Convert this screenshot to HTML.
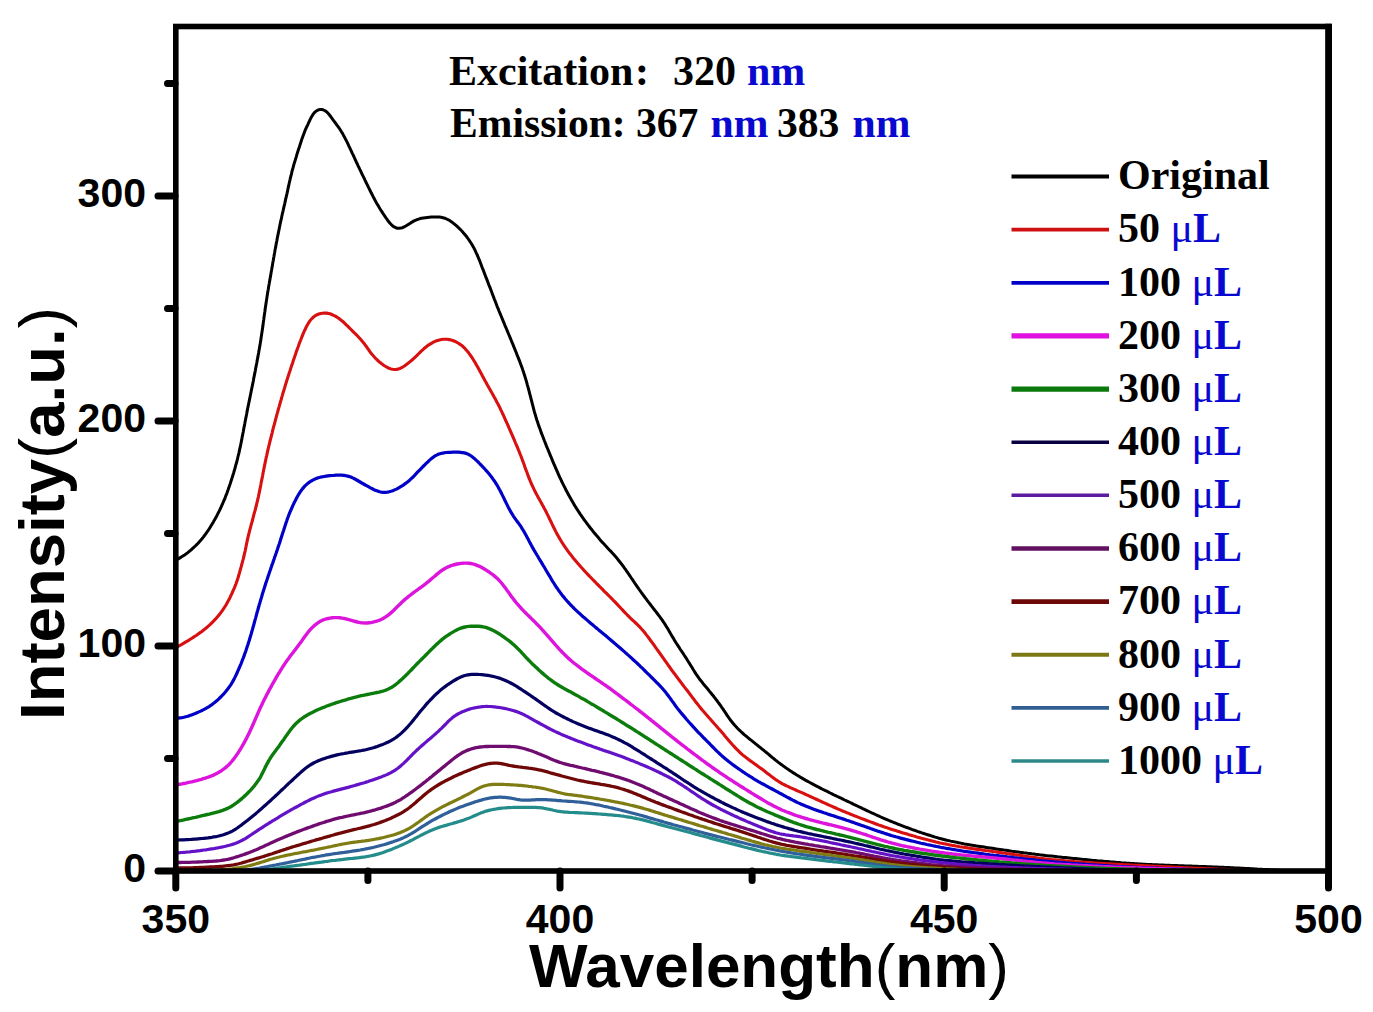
<!DOCTYPE html>
<html><head><meta charset="utf-8"><style>
html,body{margin:0;padding:0;background:#fff;}
body{width:1373px;height:1012px;overflow:hidden;position:relative;}
svg{position:absolute;left:0;top:0;}
</style></head><body>
<svg width="1373" height="1012" viewBox="0 0 1373 1012">
<g fill="none" stroke-linejoin="round" stroke-linecap="round">
<path d="M176 560 177.8 559.1 179.5 558.1 181.2 557.1 182.9 556 184.6 554.9 186.2 553.8 187.8 552.6 189.3 551.3 190.9 550.1 192.4 548.7 193.8 547.4 195.3 546 196.7 544.6 198.1 543.2 199.4 541.7 200.7 540.2 202 538.7 203.3 537.1 204.5 535.5 205.7 533.9 206.8 532.3 208 530.7 209.1 529 210.2 527.3 211.2 525.6 212.2 523.9 213.3 522.2 214.2 520.4 215.2 518.7 216.2 516.9 217.1 515.2 218 513.4 218.9 511.6 219.8 509.8 220.7 508 221.5 506.2 222.3 504.4 223.1 502.5 223.9 500.7 224.7 498.9 225.4 497 226.1 495.1 226.9 493.3 227.5 491.4 228.2 489.5 228.9 487.6 229.5 485.7 230.2 483.8 230.8 481.9 231.4 480 232 478.1 232.6 476.2 233.2 474.3 233.8 472.4 234.3 470.5 234.9 468.5 235.4 466.6 235.9 464.7 236.5 462.8 237 460.8 237.5 458.9 237.9 457 238.4 455 238.9 453.1 239.3 451.1 239.7 449.2 240.2 447.2 240.6 445.2 241 443.3 241.4 441.3 241.8 439.4 242.1 437.4 242.5 435.4 242.9 433.5 243.3 431.5 243.6 429.5 244 427.6 244.4 425.6 244.8 423.6 245.1 421.7 245.5 419.7 245.9 417.8 246.3 415.8 246.7 413.8 247 411.9 247.4 409.9 247.8 407.9 248.2 406 248.6 404 249 402.1 249.4 400.1 249.8 398.1 250.2 396.2 250.6 394.2 251 392.3 251.4 390.3 251.8 388.3 252.2 386.4 252.6 384.4 253 382.5 253.4 380.5 253.7 378.5 254.1 376.6 254.5 374.6 254.9 372.6 255.3 370.7 255.6 368.7 256 366.8 256.4 364.8 256.8 362.8 257.1 360.9 257.5 358.9 257.9 356.9 258.2 355 258.6 353 258.9 351 259.3 349.1 259.6 347.1 260 345.1 260.3 343.1 260.6 341.2 260.9 339.2 261.2 337.2 261.5 335.2 261.8 333.3 262.1 331.3 262.4 329.3 262.7 327.3 263 325.3 263.2 323.4 263.5 321.4 263.8 319.4 264 317.4 264.3 315.4 264.6 313.4 264.9 311.5 265.1 309.5 265.4 307.5 265.7 305.5 266 303.5 266.3 301.6 266.6 299.6 266.9 297.6 267.2 295.6 267.5 293.7 267.8 291.7 268.2 289.7 268.5 287.7 268.8 285.8 269.2 283.8 269.5 281.8 269.9 279.9 270.2 277.9 270.6 275.9 270.9 274 271.2 272 271.6 270 271.9 268 272.3 266.1 272.6 264.1 272.9 262.1 273.3 260.2 273.6 258.2 274 256.2 274.3 254.2 274.7 252.3 275 250.3 275.4 248.3 275.8 246.4 276.1 244.4 276.5 242.4 276.9 240.5 277.2 238.5 277.6 236.6 278 234.6 278.4 232.6 278.8 230.7 279.2 228.7 279.6 226.8 280 224.8 280.4 222.8 280.8 220.9 281.3 218.9 281.7 217 282.1 215 282.5 213.1 283 211.1 283.4 209.2 283.9 207.2 284.3 205.3 284.8 203.3 285.2 201.4 285.6 199.4 286.1 197.5 286.5 195.5 287 193.6 287.4 191.6 287.8 189.7 288.2 187.7 288.7 185.7 289.1 183.8 289.5 181.8 290 179.9 290.4 177.9 290.9 176 291.4 174.1 291.8 172.1 292.3 170.2 292.9 168.2 293.4 166.3 293.9 164.4 294.5 162.5 295.1 160.6 295.7 158.6 296.3 156.7 296.8 154.8 297.4 152.9 298 151 298.6 149.1 299.3 147.2 299.9 145.3 300.5 143.4 301.1 141.5 301.7 139.6 302.4 137.7 303.1 135.8 303.8 134 304.5 132.1 305.2 130.2 306 128.4 306.8 126.6 307.7 124.8 308.5 123 309.4 121.2 310.2 119.4 311.1 117.6 312.1 115.9 313.1 114.3 314.2 112.9 315.5 111.6 316.9 110.6 318.4 109.9 319.9 109.5 321.5 109.5 323.1 109.8 324.6 110.5 326.1 111.4 327.4 112.6 328.7 114 329.9 115.5 331.1 117.1 332.2 118.7 333.4 120.3 334.6 121.9 335.8 123.5 336.9 125.1 338.1 126.7 339.3 128.3 340.4 130 341.4 131.7 342.5 133.4 343.4 135.1 344.4 136.9 345.3 138.7 346.2 140.4 347.1 142.2 348 144 348.8 145.8 349.7 147.6 350.5 149.4 351.4 151.3 352.2 153.1 353.1 154.9 353.9 156.7 354.7 158.5 355.6 160.3 356.4 162.1 357.3 164 358.1 165.8 359 167.6 359.8 169.4 360.7 171.2 361.5 173 362.4 174.8 363.3 176.6 364.2 178.4 365 180.2 365.9 182 366.8 183.8 367.7 185.6 368.5 187.4 369.4 189.2 370.3 191 371.2 192.8 372.1 194.5 373 196.3 373.9 198.1 374.9 199.9 375.8 201.6 376.8 203.4 377.8 205.1 378.8 206.8 379.8 208.5 380.9 210.2 382 211.9 383.1 213.6 384.2 215.2 385.3 216.9 386.4 218.5 387.6 220.2 388.8 221.7 390 223.2 391.3 224.6 392.7 225.9 394.2 226.9 395.8 227.7 397.4 228.2 399.1 228.3 400.8 228.1 402.5 227.7 404.1 226.9 405.8 226 407.4 225 409.1 223.9 410.7 222.9 412.4 221.9 414.1 220.9 415.9 220.1 417.7 219.4 419.5 218.8 421.5 218.3 423.4 218 425.4 217.7 427.3 217.4 429.3 217.2 431.3 217.1 433.3 217 435.3 216.9 437.2 216.9 439.2 217 441.1 217.3 443 217.7 444.8 218.2 446.6 219 448.4 219.8 450 220.8 451.7 221.9 453.2 223.1 454.8 224.4 456.3 225.7 457.8 227 459.2 228.4 460.6 229.8 462 231.2 463.3 232.7 464.6 234.2 465.9 235.8 467.1 237.3 468.3 239 469.4 240.6 470.5 242.3 471.6 244 472.6 245.7 473.6 247.4 474.5 249.2 475.4 251 476.2 252.8 477.1 254.6 477.8 256.4 478.6 258.3 479.4 260.1 480.1 262 480.8 263.8 481.5 265.7 482.2 267.6 483 269.4 483.7 271.3 484.4 273.2 485.1 275 485.8 276.9 486.6 278.8 487.3 280.6 488 282.5 488.7 284.4 489.4 286.2 490.2 288.1 490.9 290 491.6 291.8 492.3 293.7 493 295.6 493.7 297.4 494.4 299.3 495.2 301.2 495.9 303 496.6 304.9 497.3 306.8 498.1 308.6 498.8 310.5 499.6 312.3 500.3 314.2 501.1 316 501.9 317.9 502.6 319.7 503.4 321.6 504.2 323.4 504.9 325.3 505.7 327.1 506.5 329 507.3 330.8 508 332.6 508.8 334.5 509.6 336.3 510.3 338.2 511.1 340 511.8 341.9 512.6 343.7 513.4 345.6 514.1 347.4 514.9 349.3 515.6 351.2 516.4 353 517.1 354.9 517.8 356.7 518.6 358.6 519.3 360.4 520 362.3 520.7 364.2 521.4 366.1 522.1 367.9 522.7 369.8 523.4 371.7 524 373.6 524.6 375.5 525.2 377.4 525.8 379.4 526.4 381.3 526.9 383.2 527.4 385.1 528 387.1 528.5 389 529 390.9 529.5 392.9 530 394.8 530.5 396.7 531 398.7 531.5 400.6 532 402.5 532.5 404.5 533 406.4 533.5 408.3 534 410.3 534.5 412.2 535.1 414.1 535.7 416 536.2 418 536.8 419.9 537.5 421.8 538.1 423.7 538.7 425.6 539.4 427.4 540.1 429.3 540.8 431.2 541.4 433.1 542.2 435 542.9 436.8 543.6 438.7 544.3 440.5 545.1 442.4 545.8 444.3 546.5 446.1 547.3 448 548.1 449.8 548.8 451.7 549.6 453.5 550.3 455.4 551.1 457.2 551.9 459.1 552.6 460.9 553.4 462.8 554.2 464.6 555 466.4 555.8 468.3 556.6 470.1 557.4 471.9 558.2 473.8 559 475.6 559.8 477.4 560.7 479.2 561.5 481 562.4 482.8 563.3 484.6 564.2 486.4 565.1 488.2 566 490 566.9 491.7 567.9 493.5 568.8 495.3 569.8 497 570.8 498.8 571.8 500.5 572.8 502.2 573.8 503.9 574.8 505.7 575.9 507.4 576.9 509.1 578 510.7 579.1 512.4 580.2 514.1 581.3 515.7 582.5 517.4 583.6 519 584.8 520.6 586 522.2 587.2 523.8 588.4 525.4 589.6 527 590.8 528.6 592.1 530.1 593.3 531.7 594.6 533.2 595.9 534.8 597.2 536.3 598.5 537.8 599.8 539.4 601.1 540.9 602.4 542.4 603.8 543.8 605.1 545.3 606.5 546.8 607.8 548.2 609.2 549.7 610.6 551.1 611.9 552.6 613.3 554.1 614.6 555.6 615.9 557.1 617.2 558.6 618.5 560.2 619.7 561.7 621 563.3 622.2 564.9 623.4 566.5 624.5 568.1 625.7 569.7 626.8 571.4 628 573 629.1 574.7 630.2 576.3 631.3 578 632.5 579.7 633.6 581.3 634.7 583 635.8 584.6 637 586.3 638.1 587.9 639.2 589.5 640.4 591.2 641.6 592.8 642.7 594.4 643.9 596 645.1 597.6 646.3 599.2 647.5 600.8 648.7 602.4 650 604 651.2 605.6 652.4 607.2 653.6 608.8 654.8 610.3 656.1 611.9 657.3 613.5 658.5 615.1 659.7 616.7 660.9 618.3 662.1 619.9 663.2 621.6 664.3 623.2 665.4 624.9 666.4 626.6 667.5 628.3 668.5 630 669.5 631.7 670.5 633.5 671.5 635.2 672.5 636.9 673.6 638.6 674.6 640.4 675.6 642.1 676.7 643.8 677.8 645.4 678.9 647.1 679.9 648.8 681.1 650.5 682.2 652.1 683.3 653.8 684.4 655.5 685.5 657.1 686.6 658.8 687.6 660.5 688.7 662.2 689.8 663.9 690.8 665.6 691.9 667.3 692.9 669 694 670.7 695 672.4 696.1 674.1 697.2 675.7 698.4 677.4 699.5 679 700.7 680.6 702 682.1 703.2 683.7 704.5 685.2 705.8 686.8 707.1 688.3 708.3 689.8 709.6 691.4 710.9 692.9 712.1 694.5 713.4 696 714.6 697.6 715.8 699.2 717.1 700.8 718.2 702.4 719.4 704 720.6 705.6 721.7 707.3 722.9 708.9 724 710.6 725.1 712.2 726.2 713.9 727.3 715.6 728.4 717.2 729.6 718.9 730.8 720.5 732 722 733.2 723.6 734.5 725.1 735.9 726.6 737.2 728 738.6 729.4 740.1 730.8 741.5 732.2 743 733.5 744.5 734.8 746.1 736.1 747.6 737.4 749.1 738.7 750.7 739.9 752.3 741.2 753.8 742.4 755.4 743.7 757 744.9 758.5 746.2 760.1 747.4 761.6 748.7 763.2 749.9 764.7 751.2 766.3 752.5 767.8 753.7 769.4 755 770.9 756.3 772.4 757.6 774 758.8 775.5 760.1 777.1 761.3 778.7 762.6 780.3 763.8 781.9 764.9 783.5 766.1 785.1 767.3 786.8 768.4 788.4 769.6 790.1 770.7 791.8 771.8 793.4 772.9 795.1 773.9 796.8 775 798.5 776 800.2 777.1 802 778.1 803.7 779.1 805.4 780.1 807.2 781.1 808.9 782 810.7 783 812.4 783.9 814.2 784.9 816 785.8 817.7 786.7 819.5 787.6 821.3 788.6 823.1 789.5 824.9 790.4 826.7 791.2 828.5 792.1 830.2 793 832 793.9 833.8 794.8 835.6 795.6 837.4 796.5 839.3 797.4 841.1 798.2 842.9 799.1 844.7 800 846.5 800.8 848.3 801.7 850.1 802.5 851.9 803.4 853.7 804.3 855.5 805.1 857.3 806 859.1 806.9 860.9 807.7 862.7 808.6 864.5 809.4 866.3 810.3 868.1 811.2 869.9 812 871.7 812.9 873.6 813.7 875.4 814.5 877.2 815.4 879 816.2 880.8 817 882.7 817.8 884.5 818.6 886.3 819.4 888.2 820.2 890 821 891.9 821.7 893.7 822.5 895.6 823.2 897.4 824 899.3 824.7 901.2 825.4 903 826.1 904.9 826.8 906.8 827.5 908.7 828.2 910.6 828.9 912.4 829.6 914.3 830.2 916.2 830.9 918.1 831.6 920 832.2 921.9 832.9 923.8 833.5 925.7 834.1 927.6 834.7 929.5 835.3 931.4 835.9 933.3 836.5 935.2 837.1 937.1 837.6 939.1 838.2 941 838.7 942.9 839.2 944.9 839.7 946.8 840.2 948.7 840.6 950.7 841.1 952.6 841.5 954.6 841.9 956.6 842.3 958.5 842.7 960.5 843.1 962.4 843.5 964.4 843.9 966.4 844.2 968.4 844.6 970.3 844.9 972.3 845.2 974.3 845.6 976.2 845.9 978.2 846.2 980.2 846.5 982.2 846.8 984.1 847.1 986.1 847.4 988.1 847.7 990.1 848 992.1 848.3 994 848.6 996 848.9 998 849.2 1000 849.5 1001.9 849.8 1003.9 850.1 1005.9 850.3 1007.9 850.6 1009.9 850.9 1011.9 851.2 1013.8 851.4 1015.8 851.7 1017.8 852 1019.8 852.3 1021.8 852.5 1023.7 852.8 1025.7 853 1027.7 853.3 1029.7 853.5 1031.7 853.8 1033.7 854 1035.6 854.3 1037.6 854.5 1039.6 854.8 1041.6 855 1043.6 855.2 1045.6 855.5 1047.6 855.7 1049.6 855.9 1051.5 856.1 1053.5 856.3 1055.5 856.5 1057.5 856.8 1059.5 857 1061.5 857.2 1063.5 857.4 1065.5 857.6 1067.5 857.8 1069.4 858 1071.4 858.2 1073.4 858.4 1075.4 858.6 1077.4 858.8 1079.4 859 1081.4 859.2 1083.4 859.4 1085.4 859.6 1087.4 859.8 1089.3 860 1091.3 860.2 1093.3 860.4 1095.3 860.6 1097.3 860.8 1099.3 860.9 1101.3 861.1 1103.3 861.3 1105.3 861.5 1107.3 861.6 1109.3 861.8 1111.3 862 1113.2 862.1 1115.2 862.3 1117.2 862.5 1119.2 862.6 1121.2 862.8 1123.2 862.9 1125.2 863 1127.2 863.2 1129.2 863.3 1131.2 863.5 1133.2 863.6 1135.2 863.7 1137.2 863.8 1139.2 863.9 1141.2 864 1143.2 864.2 1145.2 864.3 1147.2 864.4 1149.2 864.5 1151.2 864.6 1153.2 864.7 1155.2 864.7 1157.2 864.8 1159.2 864.9 1161.2 865 1163.2 865.1 1165.2 865.2 1167.2 865.3 1169.2 865.3 1171.2 865.4 1173.1 865.5 1175.1 865.6 1177.1 865.6 1179.1 865.7 1181.1 865.8 1183.1 865.8 1185.1 865.9 1187.1 866 1189.1 866.1 1191.1 866.1 1193.1 866.2 1195.1 866.3 1197.1 866.3 1199.1 866.4 1201.1 866.5 1203.1 866.5 1205.1 866.6 1207.1 866.7 1209.1 866.8 1211.1 866.8 1213.1 866.9 1215.1 867 1217.1 867.1 1219.1 867.2 1221.1 867.3 1223.1 867.3 1225.1 867.4 1227.1 867.5 1229.1 867.6 1231.1 867.7 1233.1 867.8 1235.1 867.9 1237.1 868 1239.1 868.1 1241.1 868.2 1243.1 868.3 1245.1 868.4 1247.1 868.5 1249.1 868.6 1251.1 868.7 1253.1 868.8 1255.1 868.9 1257.1 869.1 1259.1 869.2 1261.1 869.3 1263.1 869.4 1265.1 869.5 1267.1 869.6 1269.1 869.7 1271 869.9 1273 870 1275 870.1 1277 870.2 1279 870.3 1281 870.5 1283 870.6 1285 870.7 1287 870.8 1289 870.9" stroke="#000000" stroke-width="3.0"/>
<path d="M176 647.5 177.8 646.5 179.5 645.6 181.3 644.6 183 643.6 184.7 642.6 186.4 641.6 188.2 640.6 189.9 639.5 191.5 638.5 193.2 637.4 194.9 636.3 196.6 635.2 198.2 634 199.8 632.9 201.5 631.7 203 630.5 204.6 629.3 206.1 628 207.7 626.7 209.2 625.4 210.6 624 212.1 622.6 213.5 621.2 214.8 619.7 216.2 618.3 217.5 616.8 218.8 615.2 220 613.7 221.2 612.1 222.4 610.5 223.5 608.8 224.6 607.2 225.7 605.5 226.7 603.7 227.6 602 228.6 600.2 229.5 598.5 230.4 596.7 231.2 594.9 232.1 593 232.9 591.2 233.7 589.4 234.5 587.6 235.2 585.7 236 583.8 236.6 582 237.3 580.1 237.9 578.2 238.5 576.3 239 574.4 239.6 572.4 240.1 570.5 240.6 568.6 241.2 566.7 241.7 564.7 242.2 562.8 242.7 560.9 243.3 558.9 243.7 557 244.2 555 244.6 553.1 245.1 551.1 245.5 549.2 245.9 547.2 246.3 545.3 246.7 543.3 247.1 541.4 247.5 539.4 248 537.5 248.4 535.5 248.9 533.6 249.4 531.6 249.9 529.7 250.4 527.8 250.9 525.8 251.4 523.9 252 522 252.5 520 253 518.1 253.5 516.2 254 514.2 254.5 512.3 255.1 510.4 255.6 508.4 256.1 506.5 256.5 504.6 257 502.6 257.5 500.7 257.9 498.7 258.4 496.8 258.8 494.8 259.2 492.9 259.6 490.9 260 488.9 260.4 487 260.8 485 261.1 483 261.5 481.1 261.9 479.1 262.3 477.2 262.7 475.2 263 473.2 263.4 471.3 263.8 469.3 264.2 467.3 264.6 465.4 265 463.4 265.4 461.5 265.8 459.5 266.2 457.5 266.7 455.6 267.1 453.6 267.5 451.7 268 449.7 268.4 447.8 268.9 445.9 269.4 443.9 269.8 442 270.3 440 270.8 438.1 271.3 436.1 271.8 434.2 272.3 432.3 272.7 430.3 273.2 428.4 273.7 426.4 274.3 424.5 274.8 422.6 275.3 420.6 275.8 418.7 276.3 416.8 276.8 414.9 277.4 412.9 277.9 411 278.4 409.1 279 407.1 279.5 405.2 280.1 403.3 280.6 401.4 281.2 399.5 281.7 397.5 282.3 395.6 282.8 393.7 283.4 391.8 284 389.9 284.6 387.9 285.1 386 285.7 384.1 286.3 382.2 286.9 380.3 287.5 378.4 288.1 376.5 288.7 374.6 289.3 372.7 290 370.8 290.6 368.9 291.2 367 291.8 365.1 292.5 363.2 293.1 361.3 293.7 359.4 294.4 357.5 295 355.6 295.7 353.7 296.3 351.8 297 349.9 297.7 348 298.4 346.2 299 344.3 299.7 342.4 300.5 340.5 301.2 338.7 301.9 336.8 302.7 335 303.4 333.1 304.2 331.3 305.1 329.5 305.9 327.7 306.8 325.9 307.8 324.2 308.8 322.5 309.9 320.9 311.1 319.4 312.5 318 313.9 316.7 315.4 315.6 317.1 314.7 318.8 314 320.7 313.5 322.5 313.2 324.4 313 326.3 313.1 328.2 313.4 330 313.8 331.8 314.5 333.6 315.3 335.3 316.2 337 317.2 338.7 318.3 340.2 319.5 341.8 320.7 343.3 322 344.8 323.4 346.2 324.8 347.7 326.2 349.1 327.6 350.5 329 351.9 330.4 353.3 331.8 354.7 333.2 356.2 334.6 357.6 336 358.9 337.5 360.3 338.9 361.6 340.4 362.9 342 364.1 343.5 365.3 345.1 366.5 346.7 367.6 348.4 368.8 350 369.9 351.6 371.1 353.2 372.4 354.8 373.7 356.3 375 357.7 376.4 359.2 377.8 360.5 379.3 361.9 380.9 363.1 382.4 364.3 384 365.5 385.7 366.5 387.4 367.5 389.1 368.3 390.9 368.9 392.7 369.3 394.5 369.5 396.3 369.4 398.1 369.1 399.9 368.5 401.6 367.7 403.2 366.7 404.8 365.7 406.4 364.5 408 363.3 409.5 362.1 411.1 360.8 412.6 359.5 414.1 358.2 415.5 356.8 417 355.4 418.4 354 419.8 352.6 421.2 351.2 422.7 349.9 424.1 348.5 425.7 347.2 427.2 346 428.8 344.8 430.5 343.8 432.2 342.8 433.9 341.9 435.7 341.1 437.6 340.5 439.5 339.9 441.4 339.5 443.3 339.3 445.2 339.2 447.1 339.3 449.1 339.6 451 340 452.8 340.5 454.6 341.2 456.4 342.1 458.1 343 459.8 344.1 461.4 345.2 462.9 346.5 464.3 347.8 465.6 349.3 466.9 350.8 468.2 352.3 469.4 353.9 470.5 355.5 471.7 357.2 472.8 358.8 473.8 360.5 474.9 362.2 475.9 363.9 476.9 365.7 477.9 367.4 478.9 369.2 479.8 370.9 480.8 372.7 481.7 374.4 482.6 376.2 483.6 378 484.5 379.7 485.5 381.5 486.5 383.2 487.4 385 488.4 386.7 489.4 388.5 490.4 390.2 491.4 392 492.4 393.7 493.3 395.4 494.3 397.2 495.3 398.9 496.2 400.7 497.1 402.5 498.1 404.2 499 406 499.9 407.8 500.7 409.6 501.6 411.4 502.4 413.2 503.3 415 504.1 416.9 504.9 418.7 505.7 420.5 506.6 422.3 507.4 424.2 508.2 426 509 427.8 509.8 429.7 510.6 431.5 511.4 433.3 512.2 435.2 513 437 513.8 438.8 514.6 440.7 515.3 442.5 516.1 444.4 516.9 446.2 517.7 448 518.4 449.9 519.2 451.7 519.9 453.6 520.7 455.5 521.4 457.3 522.1 459.2 522.8 461.1 523.5 463 524.2 464.8 524.8 466.7 525.5 468.6 526.2 470.5 526.9 472.3 527.6 474.2 528.3 476.1 529 478 529.8 479.8 530.5 481.7 531.3 483.5 532.1 485.3 533 487.1 533.8 488.9 534.7 490.7 535.6 492.5 536.5 494.3 537.5 496 538.4 497.8 539.4 499.5 540.4 501.3 541.4 503 542.3 504.8 543.3 506.5 544.2 508.3 545.2 510.1 546.1 511.8 547 513.6 547.9 515.4 548.8 517.2 549.6 519 550.5 520.8 551.4 522.6 552.2 524.4 553.1 526.2 554 528 554.9 529.8 555.8 531.6 556.7 533.4 557.7 535.1 558.7 536.9 559.7 538.6 560.7 540.3 561.7 542 562.8 543.7 563.9 545.3 565 547 566.2 548.6 567.4 550.3 568.5 551.9 569.7 553.5 571 555.1 572.2 556.6 573.4 558.2 574.7 559.7 576 561.3 577.3 562.8 578.6 564.3 579.9 565.8 581.2 567.3 582.6 568.8 583.9 570.3 585.3 571.7 586.7 573.2 588 574.6 589.4 576.1 590.8 577.5 592.2 579 593.6 580.4 595 581.8 596.4 583.3 597.8 584.7 599.2 586.1 600.6 587.5 602 588.9 603.4 590.4 604.8 591.8 606.3 593.2 607.7 594.6 609.1 596 610.5 597.4 611.9 598.8 613.3 600.3 614.7 601.7 616.1 603.1 617.5 604.6 618.8 606 620.2 607.5 621.6 609 622.9 610.4 624.3 611.9 625.7 613.3 627.1 614.8 628.5 616.2 629.9 617.6 631.3 619 632.8 620.3 634.3 621.7 635.7 623 637.2 624.4 638.6 625.8 640 627.2 641.3 628.7 642.7 630.2 644 631.7 645.2 633.3 646.4 634.9 647.6 636.4 648.8 638 650 639.7 651.2 641.3 652.4 642.9 653.6 644.5 654.7 646.1 655.9 647.8 657 649.4 658.2 651 659.4 652.6 660.5 654.3 661.7 655.9 662.8 657.5 664 659.2 665.1 660.8 666.3 662.4 667.5 664.1 668.6 665.7 669.8 667.3 670.9 669 672.1 670.6 673.3 672.2 674.5 673.8 675.7 675.4 676.9 677 678.1 678.6 679.3 680.2 680.5 681.8 681.7 683.4 682.9 685 684.1 686.6 685.3 688.1 686.6 689.7 687.8 691.3 689 692.9 690.2 694.5 691.4 696.1 692.6 697.7 693.8 699.3 695 700.9 696.2 702.5 697.5 704.1 698.7 705.6 700 707.2 701.2 708.7 702.5 710.3 703.8 711.8 705.1 713.3 706.4 714.8 707.7 716.3 709 717.8 710.4 719.3 711.7 720.8 713 722.3 714.3 723.8 715.7 725.3 717 726.8 718.3 728.3 719.7 729.8 721 731.3 722.3 732.8 723.6 734.3 724.9 735.9 726.2 737.4 727.5 738.9 728.8 740.4 730.1 742 731.4 743.5 732.7 745 734 746.4 735.4 747.9 736.8 749.3 738.2 750.7 739.6 752.1 741.1 753.5 742.6 754.8 744.1 756.1 745.7 757.3 747.3 758.5 748.9 759.7 750.5 760.9 752.1 762 753.8 763.2 755.4 764.4 757 765.5 758.6 766.7 760.3 767.9 761.9 769.1 763.5 770.3 765.1 771.5 766.6 772.7 768.2 773.9 769.8 775.1 771.4 776.4 773 777.6 774.6 778.7 776.2 779.9 777.9 781 779.6 782.1 781.3 783.1 783 784.1 784.8 785 786.6 785.9 788.4 786.7 790.2 787.6 792 788.4 793.8 789.2 795.7 790 797.5 790.8 799.3 791.6 801.2 792.4 803 793.2 804.8 794 806.6 794.8 808.5 795.7 810.3 796.5 812.1 797.3 813.9 798.2 815.7 799 817.6 799.8 819.4 800.7 821.2 801.5 823 802.3 824.8 803.1 826.7 804 828.5 804.8 830.3 805.6 832.1 806.4 834 807.2 835.8 808 837.6 808.8 839.5 809.6 841.3 810.4 843.2 811.2 845 811.9 846.9 812.7 848.7 813.4 850.6 814.2 852.4 814.9 854.3 815.7 856.1 816.4 858 817.1 859.9 817.9 861.7 818.6 863.6 819.3 865.5 820 867.3 820.7 869.2 821.4 871.1 822.1 873 822.8 874.8 823.5 876.7 824.2 878.6 824.9 880.5 825.5 882.4 826.2 884.3 826.9 886.2 827.5 888 828.1 889.9 828.8 891.8 829.4 893.7 830 895.7 830.6 897.6 831.2 899.5 831.8 901.4 832.4 903.3 833 905.2 833.5 907.1 834.1 909 834.7 911 835.2 912.9 835.8 914.8 836.3 916.7 836.9 918.7 837.4 920.6 838 922.5 838.5 924.4 839 926.4 839.5 928.3 840 930.3 840.5 932.2 841 934.1 841.5 936.1 842 938 842.4 940 842.9 941.9 843.3 943.9 843.7 945.8 844.1 947.8 844.5 949.8 844.9 951.7 845.3 953.7 845.6 955.7 846 957.6 846.3 959.6 846.7 961.6 847 963.6 847.3 965.5 847.6 967.5 847.9 969.5 848.2 971.5 848.5 973.4 848.8 975.4 849.1 977.4 849.4 979.4 849.6 981.4 849.9 983.3 850.2 985.3 850.5 987.3 850.7 989.3 851 991.3 851.3 993.2 851.6 995.2 851.8 997.2 852.1 999.2 852.4 1001.2 852.7 1003.2 853 1005.1 853.3 1007.1 853.6 1009.1 853.8 1011.1 854.1 1013 854.4 1015 854.7 1017 855 1019 855.3 1021 855.6 1022.9 855.9 1024.9 856.2 1026.9 856.5 1028.9 856.8 1030.8 857.1 1032.8 857.4 1034.8 857.6 1036.8 857.9 1038.8 858.2 1040.8 858.4 1042.7 858.6 1044.7 858.9 1046.7 859.1 1048.7 859.3 1050.7 859.5 1052.7 859.7 1054.7 859.9 1056.7 860.1 1058.7 860.3 1060.6 860.5 1062.6 860.6 1064.6 860.8 1066.6 861 1068.6 861.1 1070.6 861.3 1072.6 861.4 1074.6 861.6 1076.6 861.7 1078.6 861.9 1080.6 862 1082.6 862.2 1084.6 862.3 1086.6 862.4 1088.6 862.6 1090.6 862.7 1092.6 862.8 1094.6 863 1096.6 863.1 1098.5 863.2 1100.5 863.3 1102.5 863.5 1104.5 863.6 1106.5 863.7 1108.5 863.8 1110.5 863.9 1112.5 864 1114.5 864.1 1116.5 864.3 1118.5 864.4 1120.5 864.5 1122.5 864.6 1124.5 864.7 1126.5 864.8 1128.5 864.9 1130.5 865 1132.5 865.1 1134.5 865.2 1136.5 865.3 1138.5 865.4 1140.5 865.5 1142.5 865.6 1144.5 865.7 1146.5 865.8 1148.5 865.9 1150.5 866 1152.5 866.1 1154.5 866.2 1156.5 866.3 1158.5 866.4 1160.5 866.5 1162.5 866.6 1164.5 866.7 1166.5 866.8 1168.4 866.9 1170.4 867 1172.4 867.1 1174.4 867.2 1176.4 867.3 1178.4 867.4 1180.4 867.5 1182.4 867.6 1184.4 867.7 1186.4 867.8 1188.4 867.9 1190.4 868 1192.4 868.1 1194.4 868.2 1196.4 868.2 1198.4 868.3 1200.4 868.4 1202.4 868.5 1204.4 868.6 1206.4 868.7 1208.4 868.8 1210.4 868.9 1212.4 868.9 1214.4 869 1216.4 869.1 1218.4 869.2 1220.4 869.3 1222.4 869.3 1224.4 869.4 1226.4 869.5 1228.4 869.6 1230.4 869.7 1232.4 869.7 1234.4 869.8 1236.4 869.9 1238.4 870 1240.4 870 1242.4 870.1 1244.4 870.2 1246.4 870.2 1248.4 870.3 1250.4 870.4 1252.4 870.4 1254.4 870.5 1256.4 870.6 1258.4 870.6 1260.4 870.7 1262.4 870.8 1264.4 870.8 1266.4 870.9 1268.4 871" stroke="#d81010" stroke-width="3.1"/>
<path d="M176 718.5 178 718.2 179.9 717.9 181.9 717.6 183.8 717.2 185.8 716.7 187.7 716.2 189.6 715.6 191.5 714.9 193.4 714.2 195.2 713.5 197 712.7 198.9 711.9 200.7 711.1 202.5 710.2 204.2 709.3 206 708.3 207.7 707.3 209.4 706.3 211.1 705.2 212.7 704 214.3 702.8 215.8 701.6 217.3 700.3 218.8 698.9 220.2 697.5 221.6 696.1 223 694.7 224.3 693.2 225.6 691.7 226.9 690.1 228.1 688.5 229.3 686.9 230.4 685.3 231.5 683.6 232.5 681.9 233.5 680.1 234.4 678.4 235.3 676.6 236.2 674.8 237 673 237.8 671.2 238.6 669.3 239.4 667.5 240.2 665.7 241 663.8 241.7 662 242.4 660.1 243.2 658.2 243.9 656.4 244.5 654.5 245.2 652.6 245.9 650.7 246.5 648.8 247.1 646.9 247.8 645 248.4 643.1 249 641.2 249.6 639.3 250.1 637.4 250.7 635.5 251.3 633.5 251.8 631.6 252.4 629.7 252.9 627.8 253.5 625.8 254 623.9 254.5 622 255 620.1 255.6 618.1 256.1 616.2 256.6 614.3 257.1 612.3 257.7 610.4 258.2 608.5 258.8 606.6 259.3 604.6 259.9 602.7 260.4 600.8 261 598.9 261.6 597 262.1 595 262.7 593.1 263.3 591.2 263.9 589.3 264.5 587.4 265.1 585.5 265.7 583.6 266.3 581.7 267 579.8 267.6 577.9 268.2 576 268.9 574.1 269.5 572.2 270.2 570.3 270.8 568.4 271.5 566.5 272.1 564.6 272.8 562.8 273.4 560.9 274.1 559 274.7 557.1 275.4 555.2 276.1 553.3 276.7 551.4 277.4 549.5 278 547.6 278.6 545.7 279.3 543.8 279.9 541.9 280.5 540 281.1 538.1 281.7 536.2 282.3 534.3 282.9 532.4 283.6 530.5 284.2 528.6 284.8 526.7 285.4 524.8 286 522.9 286.7 521 287.3 519.1 288 517.2 288.7 515.4 289.4 513.5 290.2 511.7 291 509.8 291.8 508 292.6 506.2 293.4 504.4 294.3 502.5 295.2 500.8 296.1 499 297 497.2 298 495.5 299 493.8 300.1 492.1 301.2 490.5 302.4 488.9 303.7 487.4 305 485.9 306.4 484.6 307.9 483.3 309.5 482.1 311.2 481 312.9 480.1 314.6 479.2 316.4 478.4 318.3 477.8 320.2 477.3 322.1 476.8 324.1 476.5 326 476.2 328 475.9 330 475.7 332 475.5 334 475.4 336 475.2 337.9 475.2 339.9 475.2 341.9 475.2 343.9 475.4 345.8 475.7 347.7 476.1 349.5 476.6 351.4 477.3 353.2 478.1 354.9 479 356.7 480 358.4 481 360.1 482 361.8 483 363.6 484 365.3 485 367 485.9 368.8 486.9 370.5 487.9 372.3 488.8 374.1 489.7 375.9 490.4 377.7 491.1 379.6 491.7 381.5 492.1 383.4 492.3 385.3 492.3 387.2 492.1 389.1 491.8 391 491.3 392.8 490.7 394.6 489.9 396.4 489.1 398.2 488.2 399.9 487.2 401.6 486.2 403.3 485.1 404.9 483.9 406.5 482.7 408.1 481.5 409.6 480.2 411 478.9 412.5 477.5 413.9 476.1 415.3 474.6 416.6 473.2 418 471.7 419.4 470.3 420.8 468.9 422.2 467.4 423.6 466 425 464.6 426.4 463.2 427.9 461.8 429.3 460.4 430.8 459.1 432.3 457.9 433.9 456.7 435.5 455.7 437.2 454.8 439 454.1 440.8 453.5 442.7 453.1 444.7 452.7 446.6 452.5 448.6 452.4 450.6 452.3 452.6 452.2 454.6 452.2 456.6 452.2 458.5 452.2 460.5 452.3 462.4 452.6 464.3 452.9 466.2 453.4 467.9 454.1 469.6 455 471.2 456 472.8 457.2 474.3 458.4 475.8 459.8 477.2 461.1 478.6 462.5 480 464 481.4 465.4 482.8 466.8 484.2 468.3 485.5 469.8 486.9 471.3 488.1 472.8 489.4 474.3 490.7 475.9 491.9 477.5 493 479.1 494.2 480.7 495.3 482.4 496.4 484.1 497.4 485.8 498.4 487.5 499.3 489.3 500.3 491 501.2 492.8 502.1 494.6 503 496.4 503.9 498.2 504.7 500 505.6 501.8 506.5 503.6 507.4 505.4 508.3 507.2 509.2 508.9 510.2 510.7 511.1 512.4 512.2 514.1 513.2 515.8 514.3 517.5 515.5 519.1 516.6 520.7 517.8 522.3 519 523.9 520.2 525.5 521.3 527.2 522.3 528.9 523.4 530.6 524.4 532.3 525.3 534 526.3 535.8 527.2 537.6 528.2 539.3 529.1 541.1 530 542.9 531 544.6 531.9 546.4 532.9 548.1 533.9 549.9 534.9 551.6 535.9 553.3 536.9 555 538 556.7 539 558.5 540 560.2 541.1 561.9 542.1 563.6 543.1 565.3 544.2 567 545.2 568.7 546.2 570.5 547.2 572.2 548.2 573.9 549.3 575.6 550.3 577.3 551.3 579.1 552.3 580.8 553.4 582.5 554.5 584.2 555.5 585.9 556.6 587.5 557.8 589.2 558.9 590.8 560.1 592.4 561.3 594 562.5 595.6 563.8 597.1 565.1 598.7 566.4 600.2 567.7 601.7 569 603.1 570.4 604.6 571.8 606 573.2 607.5 574.6 608.9 576.1 610.3 577.5 611.6 579 613 580.5 614.3 581.9 615.7 583.4 617 585 618.3 586.5 619.6 588 620.9 589.5 622.2 591 623.5 592.6 624.8 594.1 626.1 595.6 627.4 597.2 628.6 598.7 629.9 600.3 631.2 601.8 632.5 603.3 633.7 604.9 635 606.4 636.3 607.9 637.6 609.5 638.9 611 640.2 612.5 641.5 614 642.8 615.5 644.1 617.1 645.4 618.6 646.7 620.1 648 621.6 649.3 623.1 650.6 624.6 651.9 626.1 653.3 627.6 654.6 629.1 655.9 630.6 657.3 632.1 658.6 633.5 660 635 661.3 636.5 662.7 637.9 664 639.4 665.4 640.8 666.8 642.3 668.2 643.7 669.6 645.1 671 646.5 672.4 648 673.8 649.4 675.2 650.8 676.6 652.2 678 653.6 679.4 655.1 680.9 656.5 682.3 657.9 683.7 659.3 685.1 660.7 686.6 662 688 663.3 689.5 664.6 691 665.9 692.6 667.1 694.2 668.3 695.8 669.5 697.4 670.7 699 671.8 700.6 673 702.2 674.2 703.9 675.3 705.5 676.5 707.1 677.7 708.7 679 710.2 680.2 711.8 681.5 713.4 682.8 714.9 684.1 716.4 685.4 717.9 686.7 719.5 688 721 689.3 722.5 690.6 723.9 692 725.4 693.3 726.9 694.7 728.4 696 729.8 697.4 731.3 698.8 732.8 700.2 734.2 701.6 735.6 703 737.1 704.4 738.5 705.8 739.9 707.2 741.3 708.6 742.7 710 744.2 711.4 745.6 712.8 747 714.2 748.4 715.6 749.8 717.1 751.3 718.5 752.6 719.9 754 721.4 755.4 722.9 756.7 724.4 758 725.9 759.3 727.5 760.6 729 761.8 730.6 763 732.2 764.2 733.8 765.4 735.5 766.6 737.1 767.7 738.7 768.9 740.4 770 742 771.2 743.7 772.3 745.3 773.4 747 774.5 748.7 775.6 750.4 776.7 752.1 777.7 753.8 778.8 755.5 779.8 757.2 780.8 758.9 781.8 760.7 782.8 762.4 783.8 764.2 784.7 765.9 785.7 767.7 786.6 769.4 787.6 771.2 788.5 773 789.5 774.7 790.4 776.5 791.4 778.3 792.3 780 793.3 781.8 794.2 783.5 795.2 785.3 796.1 787 797.1 788.8 798 790.6 799 792.3 799.9 794.1 800.8 795.9 801.7 797.7 802.6 799.5 803.4 801.3 804.2 803.2 805 805 805.8 806.9 806.6 808.7 807.3 810.6 808 812.5 808.7 814.3 809.4 816.2 810.1 818.1 810.7 820 811.4 821.9 812 823.8 812.7 825.7 813.3 827.6 814 829.5 814.6 831.4 815.2 833.3 815.8 835.2 816.4 837.1 817.1 839 817.7 840.9 818.3 842.8 818.9 844.7 819.5 846.6 820.2 848.5 820.8 850.4 821.5 852.3 822.1 854.2 822.8 856 823.4 857.9 824.1 859.8 824.7 861.7 825.4 863.6 826.1 865.5 826.8 867.4 827.4 869.2 828.1 871.1 828.8 873 829.4 874.9 830.1 876.8 830.7 878.7 831.4 880.6 832 882.5 832.6 884.4 833.3 886.3 833.9 888.2 834.5 890.1 835.1 892 835.7 893.9 836.2 895.8 836.8 897.8 837.3 899.7 837.9 901.6 838.4 903.6 838.9 905.5 839.4 907.4 839.9 909.4 840.4 911.3 840.9 913.3 841.3 915.2 841.8 917.2 842.3 919.1 842.7 921 843.2 923 843.6 925 844 926.9 844.5 928.9 844.9 930.8 845.3 932.8 845.7 934.7 846.1 936.7 846.5 938.7 846.9 940.6 847.3 942.6 847.6 944.6 848 946.5 848.4 948.5 848.7 950.5 849 952.4 849.4 954.4 849.7 956.4 850 958.4 850.3 960.3 850.7 962.3 851 964.3 851.3 966.3 851.5 968.2 851.8 970.2 852.1 972.2 852.4 974.2 852.7 976.2 852.9 978.1 853.2 980.1 853.5 982.1 853.7 984.1 854 986.1 854.3 988.1 854.5 990 854.8 992 855 994 855.3 996 855.5 998 855.7 1000 856 1002 856.2 1003.9 856.5 1005.9 856.7 1007.9 857 1009.9 857.2 1011.9 857.4 1013.9 857.7 1015.9 857.9 1017.8 858.2 1019.8 858.4 1021.8 858.6 1023.8 858.8 1025.8 859.1 1027.8 859.3 1029.8 859.5 1031.8 859.7 1033.7 859.9 1035.7 860.2 1037.7 860.4 1039.7 860.6 1041.7 860.8 1043.7 861 1045.7 861.1 1047.7 861.3 1049.7 861.5 1051.7 861.7 1053.6 861.9 1055.6 862 1057.6 862.2 1059.6 862.4 1061.6 862.5 1063.6 862.7 1065.6 862.9 1067.6 863 1069.6 863.2 1071.6 863.3 1073.6 863.5 1075.6 863.6 1077.6 863.8 1079.6 863.9 1081.6 864.1 1083.6 864.2 1085.5 864.4 1087.5 864.5 1089.5 864.6 1091.5 864.8 1093.5 864.9 1095.5 865.1 1097.5 865.2 1099.5 865.3 1101.5 865.4 1103.5 865.6 1105.5 865.7 1107.5 865.8 1109.5 865.9 1111.5 866.1 1113.5 866.2 1115.5 866.3 1117.5 866.4 1119.5 866.5 1121.5 866.6 1123.5 866.7 1125.5 866.8 1127.5 866.9 1129.5 867 1131.5 867.1 1133.5 867.2 1135.5 867.3 1137.5 867.4 1139.5 867.5 1141.5 867.6 1143.5 867.6 1145.5 867.7 1147.4 867.8 1149.4 867.9 1151.4 868 1153.4 868 1155.4 868.1 1157.4 868.2 1159.4 868.3 1161.4 868.4 1163.4 868.4 1165.4 868.5 1167.4 868.6 1169.4 868.7 1171.4 868.7 1173.4 868.8 1175.4 868.9 1177.4 869 1179.4 869 1181.4 869.1 1183.4 869.2 1185.4 869.3 1187.4 869.3 1189.4 869.4 1191.4 869.5 1193.4 869.5 1195.4 869.6 1197.4 869.7 1199.4 869.7 1201.4 869.8 1203.4 869.8 1205.4 869.9 1207.4 870 1209.4 870 1211.4 870.1 1213.4 870.1 1215.4 870.2 1217.4 870.2 1219.4 870.3 1221.4 870.3 1223.4 870.4 1225.4 870.4 1227.4 870.5 1229.4 870.5 1231.4 870.6 1233.4 870.6 1235.4 870.6 1237.4 870.7 1239.4 870.7 1241.4 870.8 1243.4 870.8 1245.4 870.8 1247.4 870.8 1249.4 870.9 1251.4 870.9 1253.4 870.9 1255.4 871 1257.4 871 1259.4 871" stroke="#0000c8" stroke-width="3.2"/>
<path d="M176 785 178 784.6 179.9 784.2 181.9 783.9 183.8 783.5 185.8 783.1 187.8 782.6 189.7 782.2 191.7 781.8 193.6 781.3 195.6 780.8 197.5 780.3 199.4 779.8 201.4 779.3 203.3 778.7 205.2 778.2 207.1 777.5 209 776.9 210.8 776.2 212.7 775.4 214.5 774.6 216.2 773.7 218 772.7 219.7 771.7 221.4 770.7 223 769.5 224.6 768.3 226.1 767.1 227.6 765.8 229.1 764.4 230.4 763 231.7 761.5 233 759.9 234.2 758.4 235.4 756.7 236.5 755.1 237.7 753.5 238.7 751.8 239.8 750.1 240.9 748.4 241.9 746.7 242.9 744.9 243.9 743.2 244.8 741.4 245.8 739.7 246.7 737.9 247.6 736.1 248.5 734.3 249.4 732.5 250.2 730.7 251 728.9 251.9 727.1 252.7 725.3 253.5 723.4 254.3 721.6 255.1 719.8 255.9 717.9 256.7 716.1 257.5 714.3 258.3 712.4 259.1 710.6 259.9 708.8 260.7 707 261.6 705.2 262.5 703.3 263.3 701.6 264.2 699.8 265.1 698 266 696.2 266.9 694.4 267.9 692.6 268.8 690.9 269.7 689.1 270.7 687.4 271.7 685.6 272.6 683.8 273.6 682.1 274.6 680.4 275.6 678.6 276.6 676.9 277.6 675.2 278.6 673.5 279.7 671.8 280.7 670.1 281.8 668.4 282.9 666.7 284 665 285.1 663.4 286.2 661.7 287.4 660.1 288.6 658.5 289.7 656.8 290.9 655.2 292.1 653.7 293.4 652.1 294.6 650.5 295.8 648.9 297 647.3 298.2 645.7 299.4 644.1 300.6 642.5 301.8 640.9 302.9 639.2 304.1 637.6 305.2 636 306.4 634.4 307.6 632.8 308.9 631.2 310.2 629.7 311.5 628.3 312.9 626.9 314.4 625.5 315.9 624.3 317.5 623.1 319.1 622 320.8 621.1 322.6 620.2 324.4 619.5 326.3 618.9 328.2 618.5 330.1 618.1 332.1 617.8 334 617.6 336 617.6 338 617.6 339.9 617.8 341.9 618.1 343.8 618.4 345.8 618.9 347.7 619.4 349.6 619.9 351.5 620.4 353.4 621 355.4 621.5 357.3 622 359.2 622.4 361.2 622.7 363.1 622.9 365.1 623 367 623 369 622.8 371 622.6 372.9 622.2 374.8 621.7 376.7 621.2 378.6 620.5 380.4 619.8 382.2 618.9 383.9 618 385.6 616.9 387.2 615.8 388.8 614.6 390.3 613.4 391.8 612.1 393.3 610.7 394.7 609.3 396.1 607.9 397.5 606.5 399 605.1 400.4 603.7 401.8 602.3 403.3 600.9 404.8 599.6 406.3 598.3 407.8 597.1 409.4 595.8 411 594.6 412.6 593.4 414.2 592.2 415.8 591 417.4 589.8 419 588.7 420.7 587.5 422.3 586.3 423.9 585.1 425.5 583.9 427 582.7 428.6 581.4 430.1 580.1 431.6 578.8 433.1 577.5 434.7 576.2 436.2 574.9 437.7 573.6 439.3 572.4 440.8 571.2 442.5 570 444.1 569 445.8 568 447.6 567.1 449.4 566.3 451.2 565.6 453.1 565 455 564.5 457 564 458.9 563.7 460.9 563.4 462.8 563.2 464.8 563.1 466.8 563.1 468.7 563.3 470.7 563.5 472.6 563.9 474.5 564.4 476.4 565.1 478.2 565.8 480 566.6 481.8 567.5 483.5 568.5 485.2 569.5 486.9 570.6 488.6 571.7 490.2 572.8 491.8 574 493.4 575.2 494.9 576.4 496.4 577.7 497.9 579.1 499.3 580.5 500.6 582 501.9 583.5 503.1 585.1 504.4 586.7 505.6 588.3 506.7 589.9 507.9 591.5 509.1 593.1 510.2 594.7 511.4 596.4 512.6 598 513.8 599.6 515 601.1 516.3 602.7 517.5 604.2 518.8 605.7 520.2 607.2 521.5 608.7 522.9 610.1 524.3 611.6 525.7 613 527.1 614.4 528.6 615.8 530 617.2 531.4 618.6 532.8 620 534.3 621.4 535.7 622.8 537.1 624.3 538.5 625.7 539.9 627.1 541.2 628.6 542.6 630.1 543.9 631.6 545.2 633.1 546.6 634.6 547.9 636.1 549.2 637.6 550.5 639.1 551.8 640.6 553.1 642.1 554.4 643.6 555.7 645.1 557.1 646.6 558.4 648.1 559.7 649.6 561.1 651 562.5 652.5 563.9 653.9 565.3 655.3 566.8 656.7 568.2 658.1 569.7 659.4 571.2 660.7 572.7 662 574.3 663.3 575.9 664.5 577.4 665.7 579 666.9 580.6 668.1 582.2 669.3 583.8 670.5 585.5 671.7 587.1 672.8 588.8 674 590.4 675.1 592.1 676.2 593.7 677.3 595.4 678.5 597 679.6 598.7 680.7 600.3 681.8 602 683 603.6 684.1 605.3 685.2 606.9 686.4 608.5 687.5 610.2 688.7 611.8 689.9 613.4 691.1 615 692.3 616.6 693.5 618.2 694.7 619.8 695.9 621.4 697.1 623 698.3 624.6 699.5 626.2 700.7 627.8 701.9 629.4 703.1 630.9 704.3 632.5 705.5 634.1 706.8 635.7 708 637.3 709.2 638.9 710.4 640.4 711.7 642 712.9 643.6 714.1 645.2 715.4 646.7 716.6 648.3 717.9 649.9 719.1 651.4 720.4 653 721.6 654.5 722.9 656.1 724.1 657.6 725.4 659.2 726.6 660.7 727.9 662.3 729.2 663.9 730.4 665.4 731.7 667 732.9 668.5 734.2 670.1 735.4 671.7 736.7 673.2 737.9 674.8 739.1 676.4 740.4 677.9 741.6 679.5 742.8 681.1 744.1 682.7 745.3 684.3 746.5 685.8 747.7 687.4 749 689 750.2 690.6 751.4 692.2 752.6 693.8 753.8 695.4 755 697 756.2 698.6 757.4 700.2 758.6 701.8 759.8 703.4 761 705 762.2 706.6 763.4 708.2 764.5 709.9 765.7 711.5 766.9 713.1 768 714.8 769.2 716.4 770.3 718.1 771.4 719.7 772.6 721.4 773.7 723 774.8 724.7 775.9 726.4 777 728 778.1 729.7 779.2 731.4 780.3 733.1 781.4 734.7 782.5 736.4 783.5 738.1 784.6 739.8 785.7 741.5 786.7 743.2 787.8 744.9 788.9 746.6 789.9 748.3 791 750 792 751.7 793.1 753.4 794.1 755.1 795.2 756.8 796.2 758.5 797.3 760.2 798.3 761.9 799.3 763.7 800.4 765.4 801.4 767.1 802.4 768.9 803.4 770.6 804.3 772.4 805.3 774.1 806.2 775.9 807.1 777.7 808 779.5 808.8 781.3 809.7 783.2 810.5 785 811.2 786.9 812 788.7 812.7 790.6 813.4 792.5 814.1 794.3 814.8 796.2 815.5 798.1 816.1 800 816.7 801.9 817.3 803.8 817.9 805.8 818.5 807.7 819 809.6 819.6 811.5 820.1 813.5 820.6 815.4 821.1 817.3 821.6 819.3 822.1 821.2 822.6 823.2 823.1 825.1 823.5 827 824 829 824.5 830.9 824.9 832.9 825.4 834.8 825.9 836.8 826.4 838.7 826.9 840.6 827.4 842.6 827.9 844.5 828.4 846.4 828.9 848.4 829.4 850.3 830 852.2 830.5 854.1 831.1 856 831.7 858 832.3 859.9 832.9 861.8 833.5 863.7 834.1 865.6 834.7 867.5 835.4 869.4 836 871.3 836.6 873.2 837.3 875.1 837.9 876.9 838.5 878.8 839.1 880.8 839.8 882.7 840.4 884.6 841 886.5 841.5 888.4 842.1 890.3 842.6 892.2 843.2 894.2 843.7 896.1 844.2 898.1 844.7 900 845.1 902 845.6 903.9 846 905.9 846.4 907.8 846.8 909.8 847.2 911.7 847.6 913.7 848 915.7 848.4 917.6 848.7 919.6 849.1 921.6 849.4 923.5 849.8 925.5 850.1 927.5 850.4 929.5 850.8 931.4 851.1 933.4 851.4 935.4 851.7 937.4 852 939.3 852.3 941.3 852.5 943.3 852.8 945.3 853.1 947.3 853.3 949.3 853.6 951.2 853.8 953.2 854.1 955.2 854.3 957.2 854.5 959.2 854.7 961.2 854.9 963.2 855.1 965.2 855.3 967.2 855.5 969.1 855.7 971.1 855.9 973.1 856.1 975.1 856.3 977.1 856.4 979.1 856.6 981.1 856.8 983.1 857 985.1 857.1 987.1 857.3 989.1 857.5 991.1 857.7 993 857.9 995 858 997 858.2 999 858.4 1001 858.6 1003 858.8 1005 859 1007 859.2 1009 859.4 1011 859.7 1012.9 859.9 1014.9 860.1 1016.9 860.3 1018.9 860.5 1020.9 860.7 1022.9 861 1024.9 861.2 1026.9 861.4 1028.9 861.6 1030.8 861.8 1032.8 862 1034.8 862.2 1036.8 862.4 1038.8 862.6 1040.8 862.8 1042.8 863 1044.8 863.2 1046.8 863.3 1048.8 863.5 1050.8 863.7 1052.7 863.8 1054.7 864 1056.7 864.1 1058.7 864.2 1060.7 864.4 1062.7 864.5 1064.7 864.6 1066.7 864.7 1068.7 864.8 1070.7 865 1072.7 865.1 1074.7 865.2 1076.7 865.3 1078.7 865.4 1080.7 865.5 1082.7 865.6 1084.7 865.7 1086.7 865.8 1088.7 865.9 1090.7 866 1092.7 866.1 1094.7 866.2 1096.7 866.3 1098.7 866.4 1100.7 866.5 1102.7 866.6 1104.7 866.6 1106.7 866.7 1108.7 866.8 1110.7 866.9 1112.7 867 1114.7 867.1 1116.7 867.1 1118.7 867.2 1120.7 867.3 1122.7 867.4 1124.7 867.4 1126.7 867.5 1128.7 867.6 1130.6 867.7 1132.6 867.7 1134.6 867.8 1136.6 867.9 1138.6 868 1140.6 868 1142.6 868.1 1144.6 868.2 1146.6 868.2 1148.6 868.3 1150.6 868.4 1152.6 868.4 1154.6 868.5 1156.6 868.6 1158.6 868.6 1160.6 868.7 1162.6 868.8 1164.6 868.8 1166.6 868.9 1168.6 869 1170.6 869 1172.6 869.1 1174.6 869.1 1176.6 869.2 1178.6 869.3 1180.6 869.3 1182.6 869.4 1184.6 869.5 1186.6 869.5 1188.6 869.6 1190.6 869.6 1192.6 869.7 1194.6 869.7 1196.6 869.8 1198.6 869.9 1200.6 869.9 1202.6 870 1204.6 870 1206.6 870.1 1208.6 870.1 1210.6 870.2 1212.6 870.2 1214.6 870.3 1216.6 870.3 1218.6 870.4 1220.6 870.4 1222.6 870.5 1224.6 870.5 1226.6 870.5 1228.6 870.6 1230.6 870.6 1232.6 870.7 1234.6 870.7 1236.6 870.8 1238.6 870.8 1240.6 870.8 1242.6 870.9 1244.6 870.9 1246.6 870.9 1248.6 871" stroke="#dc14dc" stroke-width="3.4"/>
<path d="M176 821.5 178 821.1 179.9 820.7 181.9 820.3 183.8 819.9 185.8 819.4 187.7 819 189.7 818.6 191.6 818.2 193.6 817.7 195.5 817.3 197.5 816.8 199.4 816.4 201.4 815.9 203.3 815.4 205.3 815 207.2 814.5 209.2 814.1 211.1 813.6 213.1 813.1 215 812.6 216.9 812.1 218.8 811.6 220.8 811 222.6 810.4 224.5 809.7 226.3 808.9 228.1 808.1 229.9 807.2 231.6 806.2 233.3 805.1 234.9 804 236.5 802.8 238.1 801.6 239.7 800.4 241.2 799.1 242.7 797.8 244.2 796.4 245.7 795.1 247.1 793.7 248.5 792.3 249.9 790.9 251.3 789.4 252.6 787.9 253.9 786.4 255.1 784.8 256.3 783.2 257.5 781.6 258.6 780 259.7 778.3 260.7 776.6 261.6 774.8 262.5 773 263.4 771.2 264.3 769.4 265.1 767.6 266 765.9 266.9 764.1 267.9 762.3 268.8 760.6 269.9 758.9 270.9 757.2 272.1 755.5 273.2 753.9 274.4 752.3 275.6 750.7 276.8 749.1 278 747.5 279.2 745.9 280.3 744.3 281.5 742.6 282.6 741 283.8 739.4 284.9 737.7 286 736.1 287.2 734.4 288.4 732.8 289.5 731.2 290.7 729.6 292 728 293.2 726.5 294.6 725 295.9 723.6 297.4 722.2 298.9 720.9 300.4 719.7 302 718.5 303.6 717.3 305.3 716.3 307 715.2 308.7 714.2 310.5 713.3 312.3 712.4 314.1 711.5 315.9 710.6 317.7 709.8 319.5 709 321.4 708.2 323.2 707.5 325.1 706.8 326.9 706 328.8 705.3 330.7 704.7 332.6 704 334.5 703.3 336.4 702.7 338.3 702.1 340.2 701.5 342.1 700.9 344 700.3 345.9 699.8 347.8 699.2 349.8 698.7 351.7 698.2 353.6 697.7 355.6 697.2 357.5 696.7 359.4 696.2 361.4 695.7 363.3 695.3 365.3 694.9 367.3 694.5 369.2 694.1 371.2 693.7 373.1 693.3 375.1 692.9 377.1 692.5 379 692.1 380.9 691.6 382.9 691.1 384.7 690.5 386.6 689.8 388.4 689 390.2 688.1 391.9 687.2 393.5 686.1 395.1 685 396.7 683.7 398.2 682.5 399.7 681.1 401.2 679.8 402.7 678.4 404.1 677.1 405.5 675.7 407 674.3 408.4 672.8 409.8 671.4 411.2 670 412.6 668.5 413.9 667.1 415.3 665.7 416.7 664.2 418.1 662.8 419.5 661.4 420.9 660 422.4 658.5 423.8 657.1 425.2 655.7 426.6 654.3 428 652.9 429.4 651.4 430.8 650 432.2 648.6 433.6 647.2 435.1 645.8 436.5 644.4 438 643.1 439.5 641.7 441 640.4 442.5 639.2 444.1 637.9 445.7 636.7 447.3 635.6 449 634.5 450.7 633.4 452.4 632.4 454.1 631.4 455.8 630.4 457.6 629.5 459.4 628.7 461.2 628 463.1 627.5 465 627 467 626.6 468.9 626.4 470.9 626.2 472.9 626.2 474.8 626.1 476.8 626.2 478.8 626.3 480.8 626.5 482.7 626.8 484.7 627.2 486.6 627.7 488.4 628.4 490.3 629.1 492.1 629.9 493.8 630.8 495.6 631.8 497.3 632.8 499 633.8 500.7 634.9 502.3 636 504 637.2 505.6 638.3 507.2 639.5 508.8 640.7 510.4 641.9 511.9 643.2 513.4 644.5 514.9 645.8 516.4 647.2 517.8 648.6 519.2 650 520.6 651.4 521.9 652.9 523.3 654.4 524.6 655.8 526 657.3 527.4 658.8 528.8 660.2 530.2 661.6 531.6 663.1 533 664.5 534.4 665.8 535.9 667.2 537.4 668.6 538.8 669.9 540.3 671.3 541.8 672.6 543.3 673.9 544.8 675.2 546.4 676.5 547.9 677.8 549.5 679 551.1 680.2 552.7 681.4 554.3 682.5 556 683.6 557.7 684.7 559.4 685.8 561.1 686.8 562.8 687.8 564.5 688.7 566.3 689.7 568.1 690.7 569.8 691.6 571.6 692.6 573.3 693.5 575.1 694.5 576.9 695.4 578.6 696.4 580.3 697.4 582.1 698.4 583.8 699.3 585.6 700.3 587.3 701.4 589 702.4 590.7 703.4 592.5 704.4 594.2 705.4 595.9 706.4 597.6 707.5 599.3 708.5 601 709.5 602.8 710.5 604.5 711.6 606.2 712.6 607.9 713.6 609.6 714.7 611.3 715.7 613 716.8 614.7 717.8 616.4 718.8 618.1 719.9 619.8 720.9 621.5 722 623.2 723 624.9 724.1 626.6 725.2 628.3 726.2 630 727.3 631.7 728.3 633.4 729.4 635.1 730.5 636.8 731.6 638.5 732.6 640.2 733.7 641.8 734.8 643.5 735.9 645.2 737 646.9 738 648.6 739.1 650.3 740.2 651.9 741.3 653.6 742.4 655.3 743.5 657 744.6 658.7 745.6 660.3 746.7 662 747.8 663.7 748.9 665.4 750 667.1 751.1 668.7 752.1 670.4 753.2 672.1 754.3 673.8 755.4 675.5 756.5 677.2 757.5 678.8 758.6 680.5 759.7 682.2 760.8 683.9 761.9 685.6 762.9 687.2 764 688.9 765.1 690.6 766.2 692.3 767.3 694 768.4 695.7 769.4 697.3 770.5 699 771.6 700.7 772.7 702.4 773.7 704.1 774.8 705.8 775.9 707.5 776.9 709.2 778 710.9 779.1 712.6 780.1 714.3 781.2 716 782.2 717.6 783.3 719.3 784.4 721 785.4 722.7 786.5 724.4 787.6 726.1 788.7 727.8 789.7 729.5 790.8 731.2 791.9 732.9 792.9 734.6 794 736.3 795 738 796.1 739.7 797.1 741.4 798.2 743.1 799.2 744.8 800.2 746.6 801.2 748.3 802.2 750 803.2 751.8 804.1 753.6 805.1 755.3 806 757.1 806.9 758.9 807.8 760.7 808.6 762.5 809.5 764.3 810.3 766.2 811.2 768 812 769.8 812.7 771.7 813.5 773.5 814.3 775.3 815.1 777.2 815.8 779 816.6 780.9 817.4 782.7 818.1 784.6 818.9 786.4 819.6 788.3 820.4 790.2 821.1 792 821.8 793.9 822.6 795.8 823.2 797.7 823.9 799.6 824.5 801.5 825.1 803.4 825.7 805.3 826.3 807.2 826.9 809.1 827.4 811.1 827.9 813 828.5 814.9 829 816.9 829.5 818.8 829.9 820.7 830.4 822.7 830.9 824.6 831.4 826.6 831.8 828.5 832.3 830.5 832.7 832.4 833.2 834.4 833.6 836.3 834.1 838.3 834.5 840.2 835 842.2 835.4 844.1 835.9 846 836.4 848 836.8 849.9 837.3 851.9 837.8 853.8 838.3 855.8 838.8 857.7 839.3 859.6 839.8 861.6 840.3 863.5 840.8 865.4 841.3 867.4 841.8 869.3 842.3 871.2 842.8 873.2 843.3 875.1 843.8 877 844.3 879 844.8 880.9 845.3 882.9 845.8 884.8 846.3 886.7 846.7 888.7 847.2 890.6 847.6 892.6 848 894.6 848.5 896.5 848.9 898.5 849.3 900.4 849.6 902.4 850 904.4 850.4 906.3 850.7 908.3 851 910.3 851.4 912.3 851.7 914.2 852 916.2 852.3 918.2 852.7 920.2 853 922.1 853.3 924.1 853.6 926.1 853.8 928.1 854.1 930.1 854.4 932 854.7 934 855 936 855.2 938 855.5 940 855.7 941.9 856 943.9 856.2 945.9 856.5 947.9 856.7 949.9 857 951.9 857.2 953.9 857.4 955.8 857.7 957.8 857.9 959.8 858.1 961.8 858.3 963.8 858.5 965.8 858.8 967.8 859 969.8 859.2 971.8 859.4 973.7 859.6 975.7 859.8 977.7 860 979.7 860.2 981.7 860.4 983.7 860.5 985.7 860.7 987.7 860.9 989.7 861.1 991.7 861.3 993.7 861.4 995.6 861.6 997.6 861.8 999.6 862 1001.6 862.1 1003.6 862.3 1005.6 862.5 1007.6 862.6 1009.6 862.8 1011.6 863 1013.6 863.1 1015.6 863.3 1017.6 863.4 1019.6 863.6 1021.6 863.8 1023.6 863.9 1025.5 864.1 1027.5 864.2 1029.5 864.4 1031.5 864.5 1033.5 864.6 1035.5 864.8 1037.5 864.9 1039.5 865 1041.5 865.2 1043.5 865.3 1045.5 865.4 1047.5 865.6 1049.5 865.7 1051.5 865.8 1053.5 865.9 1055.5 866 1057.5 866.1 1059.5 866.2 1061.5 866.3 1063.5 866.4 1065.5 866.5 1067.5 866.7 1069.5 866.8 1071.5 866.9 1073.5 867 1075.5 867.1 1077.5 867.2 1079.5 867.3 1081.4 867.3 1083.4 867.4 1085.4 867.5 1087.4 867.6 1089.4 867.7 1091.4 867.8 1093.4 867.9 1095.4 868 1097.4 868.1 1099.4 868.2 1101.4 868.2 1103.4 868.3 1105.4 868.4 1107.4 868.5 1109.4 868.6 1111.4 868.6 1113.4 868.7 1115.4 868.8 1117.4 868.8 1119.4 868.9 1121.4 869 1123.4 869 1125.4 869.1 1127.4 869.2 1129.4 869.2 1131.4 869.3 1133.4 869.3 1135.4 869.4 1137.4 869.4 1139.4 869.5 1141.4 869.5 1143.4 869.6 1145.4 869.6 1147.4 869.7 1149.4 869.7 1151.4 869.8 1153.4 869.8 1155.4 869.8 1157.4 869.9 1159.4 869.9 1161.4 870 1163.4 870 1165.4 870 1167.4 870.1 1169.4 870.1 1171.4 870.2 1173.4 870.2 1175.4 870.3 1177.4 870.3 1179.4 870.3 1181.4 870.4 1183.4 870.4 1185.4 870.4 1187.4 870.5 1189.4 870.5 1191.4 870.5 1193.4 870.6 1195.4 870.6 1197.4 870.6 1199.4 870.7 1201.4 870.7 1203.4 870.7 1205.4 870.7 1207.4 870.8 1209.4 870.8 1211.4 870.8 1213.4 870.8 1215.4 870.9 1217.4 870.9 1219.4 870.9 1221.4 870.9 1223.4 870.9 1225.4 870.9 1227.4 871 1229.4 871 1231.4 871 1233.4 871 1235.4 871 1237.4 871 1239.4 871" stroke="#0c7c0c" stroke-width="3.4"/>
<path d="M176 840 178 840 180 839.9 182 839.8 184 839.8 186 839.7 188 839.6 190 839.5 192 839.3 194 839.2 196 839.1 198 838.9 200 838.7 201.9 838.5 203.9 838.3 205.9 838.1 207.9 837.9 209.9 837.6 211.9 837.3 213.8 836.9 215.8 836.6 217.7 836.2 219.7 835.7 221.6 835.2 223.5 834.7 225.4 834 227.3 833.4 229.1 832.6 230.9 831.8 232.7 830.8 234.4 829.8 236.1 828.8 237.7 827.7 239.3 826.5 241 825.4 242.6 824.1 244.1 822.9 245.7 821.7 247.3 820.5 248.9 819.2 250.4 818 252 816.7 253.5 815.5 255.1 814.2 256.6 812.9 258.1 811.6 259.6 810.3 261.1 809 262.6 807.6 264.1 806.3 265.6 805 267.1 803.6 268.6 802.3 270.1 801 271.5 799.6 273 798.2 274.5 796.9 275.9 795.5 277.4 794.2 278.8 792.8 280.3 791.4 281.7 790 283.2 788.7 284.7 787.3 286.1 785.9 287.6 784.5 289 783.2 290.5 781.8 292 780.5 293.4 779.1 294.9 777.7 296.4 776.4 297.8 775 299.3 773.7 300.8 772.3 302.3 771 303.8 769.7 305.3 768.5 306.9 767.2 308.5 766.1 310.2 765 311.9 764 313.6 763 315.4 762.1 317.2 761.3 319 760.5 320.9 759.8 322.8 759.1 324.7 758.4 326.5 757.8 328.5 757.2 330.4 756.6 332.3 756.1 334.2 755.6 336.2 755.1 338.1 754.6 340.1 754.2 342 753.8 344 753.5 346 753.1 347.9 752.8 349.9 752.4 351.9 752.1 353.9 751.8 355.8 751.5 357.8 751.2 359.8 750.8 361.7 750.5 363.7 750.1 365.7 749.7 367.6 749.2 369.5 748.7 371.5 748.2 373.4 747.7 375.3 747.1 377.2 746.5 379.1 745.8 381 745.1 382.8 744.4 384.7 743.6 386.5 742.8 388.3 742 390 741.1 391.8 740.1 393.5 739.1 395.2 738 396.8 736.9 398.4 735.6 399.9 734.4 401.4 733.1 402.9 731.7 404.3 730.3 405.7 728.9 407.1 727.5 408.4 726 409.7 724.5 411 723 412.3 721.4 413.6 719.9 414.8 718.3 416.1 716.8 417.3 715.2 418.6 713.6 419.8 712.1 421.1 710.5 422.4 709 423.7 707.5 425 705.9 426.3 704.4 427.6 702.9 428.9 701.5 430.3 700 431.7 698.6 433.1 697.1 434.5 695.7 435.9 694.3 437.4 693 438.9 691.6 440.4 690.3 441.9 689.1 443.5 687.8 445.1 686.6 446.7 685.4 448.3 684.3 450 683.2 451.6 682.1 453.3 681 455.1 680 456.8 679 458.5 678.1 460.3 677.2 462.1 676.5 464 675.8 465.9 675.3 467.8 674.9 469.7 674.6 471.7 674.4 473.7 674.4 475.7 674.4 477.7 674.4 479.6 674.5 481.6 674.7 483.6 674.9 485.6 675.1 487.6 675.4 489.6 675.7 491.5 676.1 493.5 676.5 495.4 677 497.3 677.5 499.2 678.1 501.1 678.8 502.9 679.5 504.8 680.2 506.6 681 508.4 681.9 510.2 682.8 512 683.7 513.7 684.7 515.4 685.7 517.1 686.7 518.8 687.8 520.5 688.9 522.2 690 523.8 691.1 525.5 692.2 527.2 693.3 528.8 694.4 530.5 695.5 532.1 696.7 533.8 697.8 535.4 698.9 537.1 700.1 538.7 701.2 540.3 702.4 542 703.6 543.6 704.7 545.2 705.9 546.9 707 548.5 708.2 550.2 709.3 551.8 710.4 553.5 711.4 555.2 712.5 557 713.5 558.7 714.4 560.5 715.4 562.2 716.3 564 717.2 565.8 718.1 567.6 719 569.4 719.9 571.2 720.7 573 721.6 574.8 722.4 576.7 723.2 578.5 724 580.4 724.8 582.2 725.5 584.1 726.2 585.9 727 587.8 727.7 589.7 728.4 591.6 729 593.4 729.7 595.3 730.4 597.2 731 599.1 731.7 601 732.4 602.9 733 604.7 733.7 606.6 734.4 608.5 735.1 610.3 735.9 612.2 736.7 614 737.4 615.8 738.3 617.6 739.1 619.4 740 621.2 740.9 623 741.8 624.8 742.8 626.5 743.7 628.3 744.7 630 745.7 631.7 746.7 633.4 747.8 635.1 748.8 636.8 749.9 638.5 750.9 640.2 752 641.9 753.1 643.6 754.1 645.3 755.2 646.9 756.3 648.6 757.4 650.3 758.5 652 759.5 653.7 760.6 655.4 761.7 657.1 762.8 658.7 763.8 660.4 764.9 662.1 766 663.8 767.1 665.5 768.1 667.2 769.2 668.8 770.3 670.5 771.4 672.2 772.5 673.8 773.6 675.5 774.7 677.2 775.8 678.8 776.9 680.5 778 682.2 779.2 683.8 780.3 685.5 781.4 687.2 782.4 688.9 783.5 690.6 784.6 692.2 785.7 693.9 786.8 695.6 787.8 697.3 788.9 699 789.9 700.8 790.9 702.5 791.9 704.2 792.9 706 793.9 707.7 794.9 709.5 795.8 711.2 796.8 713 797.7 714.7 798.7 716.5 799.6 718.3 800.5 720.1 801.5 721.8 802.4 723.6 803.3 725.4 804.2 727.2 805 729 805.9 730.8 806.8 732.6 807.6 734.5 808.4 736.3 809.3 738.1 810.1 739.9 810.9 741.8 811.7 743.6 812.5 745.5 813.2 747.3 814 749.2 814.8 751 815.5 752.9 816.2 754.7 817 756.6 817.7 758.5 818.4 760.3 819.1 762.2 819.8 764.1 820.5 766 821.2 767.8 821.9 769.7 822.5 771.6 823.2 773.5 823.8 775.4 824.5 777.3 825.1 779.2 825.7 781.1 826.3 783 826.9 784.9 827.5 786.9 828 788.8 828.6 790.7 829.1 792.6 829.6 794.6 830.2 796.5 830.7 798.4 831.2 800.4 831.6 802.3 832.1 804.3 832.6 806.2 833 808.2 833.5 810.1 833.9 812.1 834.3 814 834.7 816 835.1 818 835.5 819.9 835.9 821.9 836.3 823.8 836.7 825.8 837.1 827.8 837.5 829.7 837.9 831.7 838.3 833.6 838.7 835.6 839.1 837.6 839.5 839.5 839.8 841.5 840.2 843.5 840.6 845.4 841.1 847.4 841.5 849.3 841.9 851.3 842.3 853.2 842.7 855.2 843.2 857.1 843.6 859.1 844.1 861 844.5 863 845 864.9 845.5 866.9 845.9 868.8 846.4 870.8 846.9 872.7 847.3 874.6 847.8 876.6 848.2 878.5 848.7 880.5 849.2 882.4 849.6 884.4 850 886.3 850.5 888.3 850.9 890.2 851.3 892.2 851.7 894.2 852.1 896.1 852.5 898.1 852.9 900.1 853.3 902 853.6 904 854 906 854.3 907.9 854.7 909.9 855 911.9 855.4 913.8 855.7 915.8 856 917.8 856.4 919.8 856.7 921.7 857 923.7 857.3 925.7 857.6 927.7 857.9 929.6 858.2 931.6 858.5 933.6 858.8 935.6 859.1 937.6 859.3 939.5 859.6 941.5 859.8 943.5 860.1 945.5 860.3 947.5 860.5 949.5 860.7 951.5 860.9 953.5 861.1 955.5 861.3 957.4 861.5 959.4 861.6 961.4 861.8 963.4 862 965.4 862.1 967.4 862.3 969.4 862.5 971.4 862.6 973.4 862.7 975.4 862.9 977.4 863 979.4 863.2 981.4 863.3 983.4 863.4 985.4 863.6 987.4 863.7 989.4 863.8 991.3 864 993.3 864.1 995.3 864.2 997.3 864.3 999.3 864.5 1001.3 864.6 1003.3 864.7 1005.3 864.8 1007.3 865 1009.3 865.1 1011.3 865.2 1013.3 865.3 1015.3 865.4 1017.3 865.5 1019.3 865.7 1021.3 865.8 1023.3 865.9 1025.3 866 1027.3 866.1 1029.3 866.2 1031.3 866.3 1033.3 866.4 1035.3 866.5 1037.3 866.6 1039.3 866.7 1041.3 866.9 1043.3 866.9 1045.3 867 1047.3 867.1 1049.3 867.2 1051.3 867.3 1053.3 867.4 1055.2 867.5 1057.2 867.6 1059.2 867.7 1061.2 867.8 1063.2 867.9 1065.2 868 1067.2 868 1069.2 868.1 1071.2 868.2 1073.2 868.3 1075.2 868.4 1077.2 868.5 1079.2 868.6 1081.2 868.7 1083.2 868.8 1085.2 868.8 1087.2 868.9 1089.2 869 1091.2 869.1 1093.2 869.2 1095.2 869.3 1097.2 869.3 1099.2 869.4 1101.2 869.5 1103.2 869.6 1105.2 869.6 1107.2 869.7 1109.2 869.8 1111.2 869.8 1113.2 869.9 1115.2 870 1117.2 870 1119.2 870.1 1121.2 870.1 1123.2 870.2 1125.2 870.2 1127.2 870.3 1129.2 870.3 1131.2 870.4 1133.2 870.4 1135.2 870.4 1137.2 870.5 1139.2 870.5 1141.2 870.5 1143.2 870.5 1145.2 870.6 1147.2 870.6 1149.2 870.6 1151.2 870.6 1153.2 870.6 1155.2 870.7 1157.2 870.7 1159.2 870.7 1161.2 870.7 1163.2 870.7 1165.2 870.7 1167.2 870.8 1169.2 870.8 1171.2 870.8 1173.2 870.8 1175.2 870.8 1177.2 870.8 1179.2 870.8 1181.2 870.9 1183.2 870.9 1185.2 870.9 1187.2 870.9 1189.2 870.9 1191.2 870.9 1193.2 870.9 1195.2 870.9 1197.2 870.9 1199.2 871 1201.2 871 1203.2 871 1205.2 871 1207.2 871 1209.2 871 1211.2 871 1213.2 871 1215.2 871 1217.2 871 1219.2 871" stroke="#040060" stroke-width="3.2"/>
<path d="M176 853 178 852.8 180 852.7 182 852.5 184 852.3 186 852.2 188 852 189.9 851.8 191.9 851.5 193.9 851.3 195.9 851.1 197.9 850.8 199.9 850.6 201.9 850.3 203.8 850 205.8 849.8 207.8 849.5 209.8 849.2 211.7 848.9 213.7 848.6 215.7 848.2 217.7 847.9 219.6 847.5 221.6 847.1 223.5 846.7 225.5 846.3 227.4 845.8 229.4 845.3 231.3 844.7 233.2 844.1 235.1 843.5 236.9 842.8 238.7 842 240.5 841.1 242.3 840.2 244.1 839.3 245.8 838.3 247.5 837.2 249.1 836.1 250.8 835 252.5 833.9 254.1 832.8 255.8 831.7 257.4 830.6 259.1 829.4 260.8 828.4 262.5 827.3 264.2 826.2 265.8 825.1 267.5 824.1 269.2 823 270.9 822 272.6 820.9 274.4 819.9 276.1 818.8 277.8 817.8 279.5 816.7 281.2 815.7 282.9 814.7 284.6 813.7 286.3 812.6 288.1 811.6 289.8 810.7 291.5 809.7 293.3 808.7 295 807.7 296.8 806.8 298.5 805.8 300.3 804.8 302.1 803.9 303.8 803 305.6 802 307.4 801.1 309.2 800.2 311 799.3 312.8 798.5 314.6 797.7 316.4 796.9 318.3 796.1 320.1 795.4 322 794.7 323.9 794 325.8 793.4 327.7 792.8 329.6 792.2 331.5 791.7 333.4 791.1 335.4 790.6 337.3 790.1 339.2 789.6 341.2 789.1 343.1 788.6 345.1 788.1 347 787.6 348.9 787.1 350.9 786.5 352.8 786 354.7 785.5 356.6 784.9 358.5 784.4 360.5 783.8 362.4 783.2 364.3 782.7 366.2 782.1 368.1 781.5 370 780.8 371.9 780.2 373.8 779.6 375.7 778.9 377.6 778.3 379.5 777.6 381.3 776.9 383.2 776.1 385 775.4 386.9 774.6 388.7 773.7 390.5 772.9 392.2 771.9 393.9 770.9 395.6 769.8 397.2 768.7 398.8 767.5 400.3 766.2 401.8 764.9 403.3 763.6 404.8 762.2 406.2 760.8 407.6 759.4 409 758 410.4 756.5 411.8 755.1 413.2 753.7 414.6 752.3 416.1 750.9 417.5 749.5 419 748.2 420.5 746.8 422 745.5 423.5 744.2 425 742.9 426.5 741.6 428 740.3 429.6 739 431.1 737.7 432.6 736.4 434.1 735.1 435.6 733.8 437.1 732.4 438.6 731.1 440 729.7 441.5 728.3 442.9 726.9 444.3 725.5 445.7 724.1 447.1 722.7 448.5 721.2 449.9 719.9 451.4 718.6 452.9 717.3 454.5 716.1 456.2 715 457.9 714 459.6 713.1 461.4 712.2 463.2 711.4 465.1 710.7 466.9 710 468.8 709.4 470.7 708.8 472.7 708.3 474.6 707.9 476.6 707.5 478.5 707.1 480.5 706.9 482.5 706.6 484.4 706.5 486.4 706.4 488.4 706.5 490.4 706.5 492.4 706.7 494.4 706.8 496.4 707.1 498.3 707.3 500.3 707.7 502.3 708 504.2 708.4 506.2 708.8 508.1 709.2 510.1 709.7 512 710.2 513.9 710.8 515.8 711.4 517.7 712 519.5 712.8 521.4 713.5 523.2 714.4 525 715.3 526.7 716.2 528.5 717.2 530.2 718.1 532 719.1 533.7 720.1 535.5 721.1 537.2 722 539 723 540.7 724 542.5 724.9 544.2 725.9 546 726.8 547.7 727.8 549.5 728.7 551.3 729.6 553.1 730.5 554.9 731.4 556.7 732.2 558.5 733 560.3 733.9 562.2 734.7 564 735.4 565.9 736.2 567.7 737 569.6 737.7 571.4 738.5 573.3 739.2 575.1 740 577 740.7 578.9 741.4 580.7 742.1 582.6 742.8 584.5 743.5 586.4 744.2 588.2 744.9 590.1 745.6 592 746.3 593.9 747 595.8 747.6 597.6 748.3 599.5 748.9 601.4 749.6 603.3 750.2 605.2 750.9 607.1 751.5 609 752.1 610.9 752.8 612.8 753.4 614.7 754.1 616.6 754.7 618.5 755.4 620.3 756.1 622.2 756.8 624.1 757.5 625.9 758.2 627.8 758.9 629.7 759.7 631.5 760.4 633.4 761.1 635.2 761.9 637.1 762.6 638.9 763.4 640.8 764.2 642.6 764.9 644.5 765.7 646.3 766.5 648.1 767.3 650 768.1 651.8 768.9 653.6 769.8 655.4 770.6 657.3 771.5 659.1 772.3 660.9 773.2 662.7 774.1 664.4 775 666.2 775.9 668 776.8 669.8 777.7 671.5 778.7 673.2 779.7 675 780.7 676.7 781.7 678.4 782.8 680.1 783.8 681.8 784.9 683.4 786 685.1 787.1 686.8 788.2 688.4 789.3 690.1 790.5 691.7 791.6 693.4 792.7 695 793.8 696.7 795 698.3 796.1 700 797.2 701.7 798.3 703.4 799.4 705.1 800.4 706.8 801.5 708.5 802.5 710.2 803.5 711.9 804.5 713.7 805.5 715.4 806.4 717.2 807.4 719 808.3 720.7 809.2 722.5 810.1 724.3 811 726.1 811.9 727.9 812.8 729.7 813.6 731.5 814.5 733.3 815.4 735.1 816.2 737 817 738.8 817.9 740.6 818.7 742.4 819.5 744.3 820.3 746.1 821.1 747.9 821.9 749.8 822.6 751.6 823.4 753.5 824.2 755.3 824.9 757.2 825.7 759 826.5 760.9 827.2 762.7 828 764.6 828.7 766.4 829.5 768.3 830.2 770.2 830.9 772.1 831.5 774 832.1 775.9 832.7 777.8 833.2 779.7 833.7 781.7 834.1 783.7 834.4 785.6 834.8 787.6 835.1 789.6 835.4 791.6 835.6 793.5 835.9 795.5 836.1 797.5 836.4 799.5 836.7 801.5 837 803.4 837.3 805.4 837.6 807.4 838 809.3 838.3 811.3 838.7 813.3 839.1 815.2 839.5 817.2 839.8 819.2 840.2 821.1 840.6 823.1 841 825 841.4 827 841.8 829 842.3 830.9 842.7 832.9 843.1 834.8 843.5 836.8 843.9 838.7 844.3 840.7 844.8 842.7 845.2 844.6 845.6 846.6 846 848.5 846.4 850.5 846.8 852.4 847.2 854.4 847.6 856.4 848 858.3 848.5 860.3 848.9 862.2 849.3 864.2 849.7 866.1 850.2 868.1 850.6 870 851 872 851.5 873.9 851.9 875.9 852.3 877.9 852.7 879.8 853.1 881.8 853.5 883.7 853.9 885.7 854.3 887.6 854.7 889.6 855.1 891.6 855.5 893.5 855.8 895.5 856.2 897.5 856.5 899.5 856.9 901.4 857.2 903.4 857.5 905.4 857.8 907.4 858.1 909.3 858.4 911.3 858.7 913.3 859 915.3 859.3 917.2 859.6 919.2 859.9 921.2 860.1 923.2 860.4 925.2 860.7 927.2 860.9 929.1 861.2 931.1 861.4 933.1 861.7 935.1 861.9 937.1 862.1 939.1 862.4 941.1 862.6 943 862.8 945 863 947 863.2 949 863.4 951 863.6 953 863.8 955 863.9 957 864.1 959 864.3 961 864.4 963 864.6 965 864.8 966.9 864.9 968.9 865.1 970.9 865.2 972.9 865.4 974.9 865.5 976.9 865.6 978.9 865.8 980.9 865.9 982.9 866 984.9 866.2 986.9 866.3 988.9 866.4 990.9 866.5 992.9 866.6 994.9 866.7 996.9 866.8 998.9 866.9 1000.9 867 1002.9 867.1 1004.9 867.2 1006.9 867.3 1008.9 867.4 1010.9 867.5 1012.9 867.6 1014.9 867.7 1016.9 867.7 1018.9 867.8 1020.9 867.9 1022.9 868 1024.9 868 1026.9 868.1 1028.9 868.2 1030.9 868.3 1032.9 868.3 1034.9 868.4 1036.9 868.5 1038.9 868.5 1040.8 868.6 1042.8 868.6 1044.8 868.7 1046.8 868.8 1048.8 868.8 1050.8 868.9 1052.8 868.9 1054.8 869 1056.8 869 1058.8 869.1 1060.8 869.2 1062.8 869.2 1064.8 869.3 1066.8 869.3 1068.8 869.4 1070.8 869.4 1072.8 869.5 1074.8 869.5 1076.8 869.6 1078.8 869.6 1080.8 869.7 1082.8 869.7 1084.8 869.8 1086.8 869.8 1088.8 869.9 1090.8 869.9 1092.8 870 1094.8 870 1096.8 870.1 1098.8 870.1 1100.8 870.1 1102.8 870.2 1104.8 870.2 1106.8 870.3 1108.8 870.3 1110.8 870.4 1112.8 870.4 1114.8 870.4 1116.8 870.5 1118.8 870.5 1120.8 870.6 1122.8 870.6 1124.8 870.6 1126.8 870.7 1128.8 870.7 1130.8 870.7 1132.8 870.8 1134.8 870.8 1136.8 870.8 1138.8 870.9 1140.8 870.9 1142.8 870.9 1144.8 870.9 1146.8 871 1148.8 871" stroke="#6412c8" stroke-width="3.2"/>
<path d="M176 862.5 178 862.5 180 862.5 182 862.4 184 862.4 186 862.4 188 862.3 190 862.3 192 862.2 194 862.2 196 862.1 198 862 200 861.9 202 861.8 204 861.7 206 861.6 208 861.5 210 861.4 212 861.3 214 861.1 216 861 217.9 860.8 219.9 860.6 221.9 860.3 223.9 860 225.8 859.7 227.8 859.3 229.7 858.8 231.7 858.3 233.6 857.8 235.5 857.2 237.4 856.7 239.3 856 241.2 855.4 243.1 854.8 245 854.1 246.9 853.4 248.8 852.7 250.6 852 252.5 851.3 254.3 850.5 256.2 849.8 258 849 259.8 848.1 261.7 847.3 263.5 846.5 265.3 845.6 267.1 844.8 268.9 843.9 270.7 843.1 272.5 842.2 274.3 841.4 276.2 840.6 278 839.8 279.8 839 281.7 838.2 283.5 837.4 285.4 836.6 287.2 835.9 289.1 835.1 290.9 834.4 292.8 833.6 294.6 832.9 296.5 832.1 298.3 831.4 300.2 830.7 302.1 830 304 829.3 305.8 828.6 307.7 827.9 309.6 827.2 311.5 826.6 313.4 825.9 315.2 825.2 317.1 824.6 319 823.9 320.9 823.3 322.8 822.7 324.7 822.1 326.6 821.4 328.5 820.9 330.5 820.3 332.4 819.7 334.3 819.2 336.2 818.7 338.2 818.2 340.1 817.7 342.1 817.3 344 816.8 346 816.4 347.9 816 349.9 815.6 351.8 815.2 353.8 814.8 355.8 814.4 357.7 814 359.7 813.6 361.6 813.2 363.6 812.8 365.5 812.3 367.5 811.8 369.4 811.4 371.4 810.9 373.3 810.3 375.2 809.8 377.1 809.2 379 808.7 381 808.1 382.8 807.4 384.7 806.8 386.6 806.1 388.5 805.4 390.3 804.6 392.2 803.9 394 803 395.8 802.2 397.5 801.2 399.3 800.3 401 799.3 402.7 798.2 404.4 797.1 406 796 407.7 794.9 409.3 793.7 410.9 792.6 412.6 791.4 414.2 790.2 415.8 789 417.4 787.8 419 786.6 420.6 785.4 422.1 784.2 423.7 782.9 425.3 781.7 426.8 780.4 428.4 779.2 430 777.9 431.5 776.7 433 775.4 434.6 774.1 436.2 772.9 437.7 771.6 439.3 770.4 440.8 769.1 442.4 767.8 443.9 766.6 445.5 765.3 447 764 448.6 762.8 450.1 761.5 451.6 760.2 453.2 759 454.8 757.7 456.4 756.6 458 755.4 459.7 754.3 461.3 753.3 463.1 752.3 464.9 751.4 466.7 750.6 468.5 749.9 470.4 749.2 472.3 748.6 474.2 748.1 476.1 747.6 478.1 747.3 480 747 482 746.8 484 746.6 486 746.5 488 746.5 490 746.4 492 746.4 494 746.4 496 746.4 498 746.4 500 746.4 502 746.4 504 746.4 506 746.4 508 746.5 510 746.5 511.9 746.6 513.9 746.7 515.9 746.9 517.9 747.2 519.8 747.6 521.8 748 523.7 748.5 525.6 749 527.5 749.6 529.4 750.2 531.3 750.8 533.2 751.5 535.1 752.2 536.9 752.9 538.8 753.7 540.6 754.4 542.5 755.2 544.3 756 546.1 756.8 548 757.6 549.8 758.4 551.6 759.2 553.5 760 555.3 760.7 557.2 761.4 559.1 762.1 561 762.7 562.9 763.3 564.8 763.8 566.8 764.3 568.7 764.8 570.6 765.3 572.6 765.7 574.5 766.2 576.5 766.6 578.4 767.1 580.4 767.5 582.3 768 584.3 768.4 586.2 768.9 588.2 769.4 590.1 769.8 592.1 770.3 594 770.7 595.9 771.2 597.9 771.7 599.8 772.2 601.8 772.6 603.7 773.1 605.6 773.6 607.6 774.1 609.5 774.6 611.4 775.2 613.4 775.7 615.3 776.3 617.2 776.8 619.1 777.4 621 778 622.9 778.6 624.8 779.2 626.7 779.9 628.6 780.5 630.5 781.2 632.4 782 634.2 782.7 636.1 783.5 637.9 784.2 639.7 785 641.6 785.8 643.4 786.6 645.2 787.5 647 788.3 648.9 789.1 650.7 790 652.5 790.8 654.3 791.7 656.1 792.5 657.9 793.4 659.7 794.2 661.5 795.1 663.3 795.9 665.2 796.7 667 797.6 668.8 798.4 670.6 799.2 672.4 800.1 674.3 800.9 676.1 801.7 677.9 802.5 679.7 803.4 681.5 804.2 683.4 805 685.2 805.9 687 806.7 688.8 807.5 690.6 808.4 692.5 809.2 694.3 810 696.1 810.8 697.9 811.7 699.8 812.5 701.6 813.2 703.4 814 705.3 814.8 707.1 815.5 709 816.3 710.9 817 712.7 817.7 714.6 818.4 716.5 819.1 718.4 819.8 720.2 820.5 722.1 821.1 724 821.8 725.9 822.4 727.8 823 729.7 823.6 731.6 824.2 733.5 824.8 735.4 825.4 737.4 826 739.3 826.6 741.2 827.2 743.1 827.8 745 828.4 746.9 829 748.8 829.5 750.7 830.1 752.7 830.7 754.6 831.3 756.5 831.9 758.4 832.5 760.3 833.1 762.2 833.7 764.1 834.3 766 834.9 767.9 835.5 769.8 836.1 771.8 836.6 773.7 837.2 775.6 837.7 777.5 838.3 779.5 838.7 781.4 839.2 783.4 839.7 785.3 840.1 787.3 840.5 789.2 840.9 791.2 841.3 793.1 841.7 795.1 842.1 797.1 842.4 799 842.8 801 843.2 803 843.5 804.9 843.9 806.9 844.2 808.9 844.6 810.9 844.9 812.8 845.2 814.8 845.6 816.8 845.9 818.7 846.2 820.7 846.6 822.7 846.9 824.7 847.2 826.6 847.5 828.6 847.8 830.6 848.2 832.6 848.5 834.5 848.8 836.5 849.1 838.5 849.5 840.5 849.8 842.4 850.1 844.4 850.5 846.4 850.8 848.3 851.1 850.3 851.5 852.3 851.8 854.2 852.2 856.2 852.6 858.2 852.9 860.1 853.3 862.1 853.7 864.1 854.1 866 854.5 868 854.9 870 855.3 871.9 855.7 873.9 856.1 875.8 856.4 877.8 856.8 879.8 857.2 881.7 857.6 883.7 858 885.7 858.3 887.6 858.7 889.6 859 891.6 859.3 893.5 859.7 895.5 860 897.5 860.3 899.5 860.6 901.4 860.9 903.4 861.1 905.4 861.4 907.4 861.7 909.4 862 911.4 862.2 913.3 862.5 915.3 862.7 917.3 863 919.3 863.2 921.3 863.5 923.3 863.7 925.3 863.9 927.2 864.1 929.2 864.3 931.2 864.6 933.2 864.8 935.2 865 937.2 865.1 939.2 865.3 941.2 865.5 943.2 865.7 945.2 865.8 947.2 866 949.1 866.1 951.1 866.2 953.1 866.4 955.1 866.5 957.1 866.6 959.1 866.7 961.1 866.8 963.1 867 965.1 867.1 967.1 867.2 969.1 867.3 971.1 867.4 973.1 867.4 975.1 867.5 977.1 867.6 979.1 867.7 981.1 867.8 983.1 867.9 985.1 868 987.1 868 989.1 868.1 991.1 868.2 993.1 868.3 995.1 868.3 997.1 868.4 999.1 868.5 1001.1 868.5 1003.1 868.6 1005.1 868.7 1007.1 868.7 1009.1 868.8 1011.1 868.9 1013.1 868.9 1015.1 869 1017.1 869.1 1019.1 869.1 1021.1 869.2 1023.1 869.2 1025.1 869.3 1027.1 869.4 1029.1 869.4 1031.1 869.5 1033.1 869.5 1035.1 869.6 1037.1 869.6 1039.1 869.7 1041.1 869.7 1043.1 869.8 1045.1 869.8 1047.1 869.8 1049.1 869.9 1051.1 869.9 1053.1 870 1055.1 870 1057.1 870 1059.1 870.1 1061.1 870.1 1063.1 870.1 1065.1 870.2 1067.1 870.2 1069.1 870.2 1071.1 870.3 1073.1 870.3 1075.1 870.3 1077.1 870.3 1079.1 870.4 1081.1 870.4 1083.1 870.4 1085.1 870.5 1087.1 870.5 1089.1 870.5 1091.1 870.5 1093.1 870.6 1095.1 870.6 1097.1 870.6 1099.1 870.6 1101.1 870.7 1103.1 870.7 1105.1 870.7 1107.1 870.7 1109.1 870.8 1111.1 870.8 1113.1 870.8 1115.1 870.8 1117.1 870.8 1119.1 870.9 1121.1 870.9 1123.1 870.9 1125.1 870.9 1127.1 870.9 1129.1 870.9 1131.1 870.9 1133.1 871 1135.1 871 1137.1 871 1139.1 871 1141.1 871 1143.1 871 1145.1 871 1147.1 871 1149.1 871" stroke="#700c70" stroke-width="3.3"/>
<path d="M176 868 178 868 180 868 182 867.9 184 867.9 186 867.9 188 867.8 190 867.8 192 867.8 194 867.7 196 867.6 198 867.6 200 867.5 202 867.4 204 867.3 206 867.2 208 867.1 210 867 212 866.9 214 866.8 216 866.7 218 866.6 220 866.4 222 866.3 223.9 866.1 225.9 865.9 227.9 865.7 229.9 865.5 231.9 865.1 233.8 864.8 235.8 864.4 237.7 864 239.7 863.5 241.6 863 243.5 862.4 245.5 861.9 247.4 861.3 249.3 860.7 251.2 860.2 253.1 859.6 255 859 256.9 858.4 258.9 857.9 260.8 857.3 262.7 856.7 264.6 856.1 266.5 855.5 268.4 854.9 270.3 854.3 272.2 853.7 274.1 853 276 852.4 277.9 851.8 279.8 851.1 281.7 850.5 283.6 849.9 285.5 849.3 287.4 848.6 289.3 848 291.2 847.4 293.1 846.8 295 846.2 296.9 845.6 298.9 845.1 300.8 844.5 302.7 843.9 304.6 843.3 306.5 842.8 308.4 842.2 310.4 841.6 312.3 841 314.2 840.5 316.1 839.9 318 839.4 320 838.8 321.9 838.3 323.8 837.7 325.7 837.2 327.6 836.6 329.6 836.1 331.5 835.5 333.4 835 335.3 834.4 337.3 833.9 339.2 833.4 341.1 832.9 343.1 832.3 345 831.8 346.9 831.3 348.9 830.8 350.8 830.4 352.8 829.9 354.7 829.4 356.6 829 358.6 828.5 360.5 828.1 362.5 827.6 364.4 827.1 366.4 826.6 368.3 826.1 370.2 825.6 372.1 825 374.1 824.5 376 823.9 377.9 823.2 379.7 822.6 381.6 821.9 383.5 821.2 385.4 820.5 387.2 819.7 389.1 819 390.9 818.2 392.7 817.3 394.5 816.5 396.3 815.6 398.1 814.7 399.9 813.8 401.6 812.8 403.3 811.8 405 810.7 406.7 809.6 408.3 808.5 409.9 807.3 411.4 806 413 804.8 414.5 803.5 416 802.2 417.5 800.8 419 799.5 420.5 798.2 422 796.9 423.5 795.6 425.1 794.3 426.6 793 428.2 791.8 429.8 790.6 431.4 789.4 433 788.3 434.7 787.2 436.4 786.1 438.1 785 439.8 784 441.5 783 443.3 782.1 445 781.1 446.8 780.2 448.6 779.3 450.4 778.4 452.2 777.5 454 776.6 455.8 775.8 457.6 774.9 459.4 774.1 461.3 773.4 463.1 772.6 465 771.8 466.8 771.1 468.7 770.3 470.5 769.6 472.4 768.8 474.2 768.1 476.1 767.4 478 766.7 479.8 766 481.7 765.4 483.6 764.8 485.6 764.3 487.5 763.9 489.4 763.5 491.4 763.3 493.4 763.1 495.3 763.1 497.3 763.2 499.3 763.4 501.2 763.7 503.2 764 505.1 764.4 507.1 764.8 509 765.3 511 765.7 512.9 766 514.9 766.3 516.9 766.6 518.9 766.9 520.9 767.1 522.8 767.4 524.8 767.6 526.8 767.8 528.8 768.1 530.8 768.3 532.7 768.7 534.7 769 536.7 769.4 538.6 769.8 540.6 770.2 542.5 770.7 544.5 771.2 546.4 771.7 548.3 772.2 550.2 772.8 552.2 773.3 554.1 773.8 556 774.4 557.9 774.9 559.9 775.4 561.8 776 563.7 776.5 565.7 777 567.6 777.5 569.5 778 571.5 778.5 573.4 779 575.3 779.5 577.3 780 579.2 780.4 581.2 780.8 583.2 781.2 585.1 781.6 587.1 782 589.1 782.3 591 782.7 593 783 595 783.3 596.9 783.6 598.9 783.9 600.9 784.3 602.9 784.6 604.8 784.9 606.8 785.3 608.8 785.7 610.7 786.1 612.7 786.5 614.6 786.9 616.6 787.4 618.5 787.9 620.4 788.5 622.3 789 624.2 789.6 626.1 790.3 628 790.9 629.9 791.6 631.8 792.3 633.6 793.1 635.5 793.8 637.3 794.6 639.2 795.3 641 796.1 642.9 796.9 644.7 797.6 646.6 798.4 648.4 799.2 650.3 799.9 652.1 800.7 654 801.4 655.8 802.2 657.7 802.9 659.5 803.6 661.4 804.4 663.3 805.1 665.2 805.8 667 806.5 668.9 807.1 670.8 807.8 672.7 808.5 674.5 809.2 676.4 809.9 678.3 810.6 680.2 811.3 682.1 812 683.9 812.6 685.8 813.3 687.7 814 689.6 814.7 691.5 815.3 693.4 816 695.2 816.7 697.1 817.3 699 818 700.9 818.6 702.8 819.3 704.7 819.9 706.6 820.5 708.5 821.2 710.4 821.8 712.3 822.4 714.2 823.1 716.1 823.7 718 824.3 719.9 824.9 721.8 825.5 723.7 826.1 725.6 826.7 727.5 827.3 729.4 827.9 731.3 828.5 733.2 829.1 735.2 829.7 737.1 830.3 739 830.9 740.9 831.5 742.8 832.1 744.7 832.7 746.6 833.4 748.5 834 750.4 834.6 752.3 835.2 754.2 835.9 756.1 836.5 758 837.2 759.9 837.8 761.8 838.5 763.7 839.1 765.5 839.7 767.4 840.3 769.4 841 771.3 841.5 773.2 842.1 775.1 842.6 777 843.1 779 843.6 780.9 844.1 782.9 844.5 784.8 844.9 786.8 845.3 788.8 845.6 790.7 846 792.7 846.3 794.7 846.6 796.7 847 798.6 847.3 800.6 847.6 802.6 847.9 804.6 848.2 806.5 848.5 808.5 848.8 810.5 849.2 812.5 849.5 814.4 849.8 816.4 850.1 818.4 850.4 820.4 850.7 822.3 851 824.3 851.3 826.3 851.5 828.3 851.8 830.3 852.1 832.2 852.4 834.2 852.7 836.2 853 838.2 853.3 840.1 853.6 842.1 853.9 844.1 854.2 846.1 854.5 848.1 854.8 850 855.1 852 855.4 854 855.8 856 856.1 857.9 856.4 859.9 856.7 861.9 857 863.9 857.4 865.8 857.7 867.8 858 869.8 858.4 871.7 858.7 873.7 859 875.7 859.4 877.7 859.7 879.6 860 881.6 860.3 883.6 860.7 885.6 861 887.5 861.3 889.5 861.6 891.5 861.8 893.5 862.1 895.5 862.4 897.4 862.6 899.4 862.9 901.4 863.1 903.4 863.4 905.4 863.6 907.4 863.9 909.4 864.1 911.3 864.3 913.3 864.5 915.3 864.7 917.3 865 919.3 865.2 921.3 865.4 923.3 865.6 925.3 865.8 927.3 866 929.2 866.2 931.2 866.3 933.2 866.5 935.2 866.7 937.2 866.9 939.2 867 941.2 867.2 943.2 867.3 945.2 867.5 947.2 867.6 949.2 867.7 951.2 867.9 953.2 868 955.2 868.1 957.2 868.2 959.2 868.3 961.2 868.4 963.2 868.6 965.2 868.7 967.1 868.8 969.1 868.9 971.1 869 973.1 869.1 975.1 869.2 977.1 869.2 979.1 869.3 981.1 869.4 983.1 869.5 985.1 869.6 987.1 869.6 989.1 869.7 991.1 869.8 993.1 869.8 995.1 869.9 997.1 869.9 999.1 870 1001.1 870 1003.1 870 1005.1 870.1 1007.1 870.1 1009.1 870.2 1011.1 870.2 1013.1 870.2 1015.1 870.3 1017.1 870.3 1019.1 870.3 1021.1 870.3 1023.1 870.4 1025.1 870.4 1027.1 870.4 1029.1 870.5 1031.1 870.5 1033.1 870.5 1035.1 870.5 1037.1 870.6 1039.1 870.6 1041.1 870.6 1043.1 870.6 1045.1 870.7 1047.1 870.7 1049.1 870.7 1051.1 870.7 1053.1 870.7 1055.1 870.8 1057.1 870.8 1059.1 870.8 1061.1 870.8 1063.1 870.8 1065.1 870.9 1067.1 870.9 1069.1 870.9 1071.1 870.9 1073.1 870.9 1075.1 870.9 1077.1 870.9 1079.1 870.9 1081.1 871 1083.1 871 1085.1 871 1087.1 871 1089.1 871 1091.1 871 1093.1 871 1095.1 871 1097.1 871 1099.1 871" stroke="#700808" stroke-width="3.3"/>
<path d="M176 871 178 871 180 871 182 871 184 871 186 871 188 871 190 871 192 871 194 871 196 871 198 871 200 871 202 871 204 870.9 206 870.9 208 870.9 210 870.8 212 870.7 214 870.6 216 870.5 218 870.3 220 870.1 222 869.9 223.9 869.7 225.9 869.5 227.9 869.3 229.9 869 231.9 868.8 233.9 868.5 235.8 868.2 237.8 867.9 239.8 867.6 241.8 867.2 243.7 866.9 245.7 866.5 247.6 866 249.6 865.6 251.5 865.1 253.4 864.6 255.4 864 257.3 863.4 259.2 862.9 261.1 862.3 263 861.7 264.9 861.1 266.8 860.5 268.7 859.9 270.6 859.3 272.6 858.8 274.5 858.2 276.4 857.7 278.4 857.2 280.3 856.7 282.3 856.3 284.2 855.9 286.2 855.4 288.1 855 290.1 854.6 292 854.2 294 853.8 296 853.4 297.9 853.1 299.9 852.7 301.8 852.3 303.8 851.9 305.8 851.6 307.7 851.2 309.7 850.8 311.7 850.4 313.6 850.1 315.6 849.7 317.6 849.3 319.5 848.9 321.5 848.5 323.4 848.1 325.4 847.7 327.4 847.3 329.3 846.9 331.3 846.5 333.2 846 335.2 845.6 337.1 845.2 339.1 844.8 341.1 844.4 343 844 345 843.7 347 843.3 348.9 843 350.9 842.7 352.9 842.4 354.9 842.1 356.8 841.9 358.8 841.6 360.8 841.4 362.8 841.1 364.8 840.9 366.8 840.6 368.7 840.3 370.7 840 372.7 839.7 374.7 839.3 376.6 838.9 378.6 838.6 380.5 838.1 382.5 837.7 384.4 837.3 386.4 836.8 388.3 836.3 390.2 835.8 392.2 835.2 394.1 834.7 396 834.1 397.9 833.4 399.8 832.8 401.6 832 403.4 831.3 405.3 830.4 407 829.5 408.8 828.6 410.5 827.6 412.2 826.5 413.9 825.4 415.5 824.3 417.1 823.1 418.8 822 420.4 820.8 422 819.6 423.6 818.5 425.2 817.3 426.9 816.1 428.5 815 430.2 813.9 431.9 812.8 433.6 811.8 435.3 810.8 437 809.8 438.8 808.8 440.5 807.9 442.3 806.9 444.1 806 445.9 805.1 447.7 804.2 449.5 803.3 451.3 802.5 453.1 801.6 454.9 800.7 456.7 799.9 458.5 799 460.3 798.1 462 797.2 463.8 796.3 465.6 795.4 467.4 794.5 469.1 793.6 470.9 792.6 472.6 791.6 474.4 790.6 476.1 789.7 477.9 788.7 479.6 787.8 481.4 787 483.3 786.3 485.1 785.7 487 785.2 489 784.8 490.9 784.6 492.9 784.4 494.9 784.3 496.9 784.3 498.9 784.3 500.9 784.4 502.9 784.4 504.9 784.5 506.8 784.6 508.8 784.7 510.8 784.8 512.8 784.9 514.8 785 516.8 785.1 518.8 785.3 520.8 785.4 522.8 785.6 524.8 785.8 526.8 786 528.8 786.3 530.8 786.5 532.7 786.8 534.7 787 536.7 787.3 538.7 787.7 540.6 788 542.6 788.4 544.6 788.8 546.5 789.2 548.4 789.7 550.4 790.2 552.3 790.7 554.2 791.3 556.1 791.8 558.1 792.4 560 792.8 561.9 793.3 563.9 793.7 565.8 794.1 567.8 794.4 569.8 794.6 571.8 794.9 573.7 795.2 575.7 795.4 577.7 795.7 579.7 795.9 581.7 796.2 583.7 796.5 585.6 796.8 587.6 797.1 589.6 797.4 591.6 797.7 593.5 798 595.5 798.3 597.5 798.6 599.5 799 601.4 799.3 603.4 799.7 605.4 800 607.3 800.4 609.3 800.7 611.3 801.1 613.2 801.5 615.2 801.9 617.2 802.2 619.1 802.6 621.1 803 623 803.4 625 803.9 626.9 804.3 628.9 804.7 630.9 805.2 632.8 805.6 634.7 806.1 636.7 806.6 638.6 807.1 640.5 807.6 642.5 808.1 644.4 808.7 646.3 809.2 648.2 809.8 650.1 810.4 652.1 811 654 811.6 655.9 812.2 657.8 812.8 659.7 813.4 661.6 814 663.5 814.6 665.4 815.2 667.3 815.8 669.2 816.4 671.2 816.9 673.1 817.5 675 818.1 676.9 818.7 678.8 819.3 680.7 819.8 682.6 820.4 684.5 821 686.5 821.6 688.4 822.2 690.3 822.8 692.2 823.3 694.1 823.9 696 824.5 697.9 825.1 699.9 825.7 701.8 826.2 703.7 826.8 705.6 827.4 707.5 828 709.4 828.5 711.4 829.1 713.3 829.7 715.2 830.2 717.1 830.8 719 831.4 720.9 831.9 722.9 832.5 724.8 833 726.7 833.6 728.6 834.2 730.5 834.7 732.5 835.3 734.4 835.9 736.3 836.4 738.2 837 740.1 837.6 742 838.2 744 838.7 745.9 839.3 747.8 839.9 749.7 840.4 751.6 841 753.6 841.5 755.5 842.1 757.4 842.6 759.3 843.1 761.3 843.7 763.2 844.2 765.1 844.7 767.1 845.1 769 845.6 771 846 772.9 846.5 774.9 846.9 776.8 847.3 778.8 847.7 780.8 848.1 782.7 848.4 784.7 848.7 786.7 849.1 788.7 849.4 790.6 849.7 792.6 849.9 794.6 850.2 796.6 850.5 798.6 850.8 800.5 851.1 802.5 851.4 804.5 851.6 806.5 851.9 808.5 852.2 810.4 852.5 812.4 852.8 814.4 853 816.4 853.3 818.4 853.6 820.3 853.9 822.3 854.1 824.3 854.4 826.3 854.7 828.3 855 830.2 855.2 832.2 855.5 834.2 855.8 836.2 856.1 838.2 856.3 840.2 856.6 842.1 856.9 844.1 857.2 846.1 857.5 848.1 857.7 850 858 852 858.3 854 858.6 856 858.9 858 859.2 859.9 859.6 861.9 859.9 863.9 860.2 865.9 860.5 867.8 860.9 869.8 861.2 871.8 861.5 873.7 861.8 875.7 862.2 877.7 862.5 879.7 862.8 881.6 863.1 883.6 863.4 885.6 863.7 887.6 864 889.6 864.2 891.5 864.5 893.5 864.7 895.5 865 897.5 865.2 899.5 865.4 901.5 865.6 903.5 865.8 905.5 866 907.5 866.2 909.4 866.3 911.4 866.5 913.4 866.7 915.4 866.8 917.4 867 919.4 867.1 921.4 867.3 923.4 867.4 925.4 867.5 927.4 867.7 929.4 867.8 931.4 867.9 933.4 868.1 935.4 868.2 937.4 868.3 939.4 868.4 941.4 868.5 943.4 868.6 945.4 868.8 947.4 868.9 949.4 869 951.4 869.1 953.4 869.2 955.4 869.3 957.3 869.4 959.3 869.5 961.3 869.6 963.3 869.7 965.3 869.8 967.3 869.9 969.3 870 971.3 870.1 973.3 870.2 975.3 870.3 977.3 870.4 979.3 870.5 981.3 870.6 983.3 870.6 985.3 870.7 987.3 870.8 989.3 870.8 991.3 870.9 993.3 870.9 995.3 870.9 997.3 871 999.3 871 1001.3 871 1003.3 871 1005.3 871 1007.3 871 1009.3 871 1011.3 871 1013.3 871 1015.3 871 1017.3 871 1019.3 871 1021.3 871 1023.3 871 1025.3 871 1027.3 871 1029.3 871 1031.3 871 1033.3 871 1035.3 871 1037.3 871 1039.3 871 1041.3 871 1043.3 871 1045.3 871 1047.3 871 1049.3 871 1051.3 871 1053.3 871 1055.3 871 1057.3 871 1059.3 871 1061.3 871 1063.3 871 1065.3 871 1067.3 871 1069.3 871 1071.3 871 1073.3 871 1075.3 871 1077.3 871 1079.3 871 1081.3 871 1083.3 871 1085.3 871 1087.3 871 1089.3 871 1091.3 871 1093.3 871 1095.3 871 1097.3 871 1099.3 871" stroke="#7e7c12" stroke-width="3.2"/>
<path d="M176 871 178 871 180 871 182 871 184 871 186 871 188 871 190 871 192 871 194 871 196 871 198 871 200 871 202 871 204 871 206 871 208 871 210 871 212 871 214 871 216 871 218 871 220 871 222 871 224 871 226 871 228 871 230 871 232 870.9 234 870.9 236 870.8 238 870.8 240 870.6 242 870.5 244 870.3 246 870.1 247.9 869.9 249.9 869.6 251.9 869.3 253.9 869 255.8 868.7 257.8 868.3 259.8 868 261.7 867.6 263.7 867.2 265.7 866.8 267.6 866.5 269.6 866.1 271.6 865.7 273.5 865.3 275.5 865 277.5 864.6 279.4 864.2 281.4 863.9 283.4 863.5 285.3 863.1 287.3 862.7 289.2 862.3 291.2 861.9 293.2 861.5 295.1 861.1 297.1 860.7 299 860.3 301 859.9 302.9 859.5 304.9 859.1 306.9 858.6 308.8 858.2 310.8 857.8 312.7 857.4 314.7 857.1 316.7 856.7 318.6 856.3 320.6 856 322.6 855.6 324.5 855.3 326.5 854.9 328.5 854.6 330.5 854.3 332.4 854 334.4 853.7 336.4 853.5 338.4 853.2 340.4 852.9 342.3 852.6 344.3 852.4 346.3 852.1 348.3 851.8 350.3 851.5 352.2 851.2 354.2 850.9 356.2 850.6 358.2 850.3 360.1 850 362.1 849.6 364.1 849.3 366 848.9 368 848.5 370 848.1 371.9 847.7 373.9 847.3 375.8 846.8 377.8 846.3 379.7 845.8 381.6 845.3 383.6 844.8 385.5 844.2 387.4 843.6 389.3 843 391.2 842.4 393.1 841.8 395 841.1 396.8 840.4 398.7 839.7 400.6 839 402.4 838.2 404.2 837.4 406 836.5 407.8 835.6 409.5 834.6 411.3 833.6 413 832.6 414.7 831.6 416.4 830.5 418.1 829.4 419.7 828.3 421.4 827.2 423.1 826.1 424.8 825.1 426.5 824 428.2 823 429.9 821.9 431.6 820.9 433.3 819.9 435.1 819 436.9 818 438.6 817.1 440.4 816.2 442.2 815.3 444 814.4 445.8 813.5 447.6 812.7 449.4 811.8 451.2 811 453 810.2 454.9 809.4 456.7 808.6 458.6 807.8 460.4 807.1 462.3 806.4 464.2 805.7 466 805 467.9 804.4 469.8 803.7 471.7 803.1 473.6 802.4 475.5 801.8 477.4 801.2 479.3 800.6 481.2 800.1 483.2 799.5 485.1 799 487 798.6 489 798.2 491 797.9 492.9 797.6 494.9 797.4 496.9 797.3 498.9 797.2 500.9 797.2 502.9 797.3 504.8 797.4 506.8 797.6 508.8 797.8 510.8 798.1 512.7 798.5 514.6 798.9 516.6 799.3 518.5 799.6 520.5 799.9 522.4 800.1 524.4 800.2 526.3 800.2 528.3 800.2 530.3 800.1 532.3 799.9 534.3 799.8 536.3 799.7 538.2 799.6 540.2 799.5 542.2 799.6 544.2 799.6 546.2 799.7 548.2 799.8 550.2 799.9 552.2 800.1 554.2 800.2 556.2 800.4 558.2 800.6 560.2 800.7 562.2 800.9 564.2 801 566.2 801.1 568.2 801.3 570.2 801.4 572.2 801.5 574.2 801.7 576.1 801.8 578.1 802 580.1 802.2 582.1 802.4 584.1 802.7 586.1 802.9 588.1 803.2 590 803.5 592 803.8 594 804.2 595.9 804.6 597.9 804.9 599.9 805.3 601.8 805.7 603.8 806.2 605.7 806.6 607.7 807 609.6 807.5 611.6 807.9 613.5 808.4 615.5 808.9 617.4 809.3 619.4 809.8 621.3 810.2 623.2 810.7 625.2 811.2 627.1 811.7 629.1 812.2 631 812.7 632.9 813.2 634.9 813.7 636.8 814.2 638.7 814.7 640.7 815.3 642.6 815.8 644.5 816.4 646.4 816.9 648.3 817.5 650.3 818.1 652.2 818.6 654.1 819.2 656 819.8 657.9 820.3 659.9 820.9 661.8 821.4 663.7 822 665.6 822.5 667.5 823.1 669.5 823.6 671.4 824.1 673.3 824.7 675.3 825.2 677.2 825.7 679.1 826.3 681 826.8 683 827.3 684.9 827.9 686.8 828.4 688.8 828.9 690.7 829.4 692.6 830 694.6 830.5 696.5 831 698.4 831.5 700.4 832 702.3 832.5 704.2 833.1 706.2 833.6 708.1 834.1 710 834.6 712 835.1 713.9 835.6 715.8 836.1 717.8 836.6 719.7 837 721.7 837.5 723.6 838 725.5 838.5 727.5 839 729.4 839.5 731.4 839.9 733.3 840.4 735.2 840.9 737.2 841.4 739.1 841.9 741.1 842.3 743 842.8 745 843.3 746.9 843.8 748.8 844.2 750.8 844.7 752.7 845.1 754.7 845.6 756.6 846 758.6 846.5 760.5 846.9 762.5 847.4 764.4 847.8 766.4 848.2 768.3 848.6 770.3 849 772.3 849.4 774.2 849.8 776.2 850.2 778.1 850.6 780.1 851 782.1 851.3 784 851.7 786 852 788 852.4 790 852.7 791.9 853 793.9 853.3 795.9 853.7 797.9 854 799.8 854.2 801.8 854.5 803.8 854.8 805.8 855.1 807.8 855.4 809.7 855.6 811.7 855.9 813.7 856.2 815.7 856.4 817.7 856.7 819.7 856.9 821.6 857.2 823.6 857.4 825.6 857.7 827.6 857.9 829.6 858.2 831.6 858.4 833.6 858.6 835.5 858.9 837.5 859.1 839.5 859.4 841.5 859.6 843.5 859.9 845.5 860.1 847.4 860.4 849.4 860.7 851.4 860.9 853.4 861.2 855.4 861.5 857.3 861.8 859.3 862.1 861.3 862.4 863.3 862.7 865.3 863 867.2 863.3 869.2 863.6 871.2 863.9 873.2 864.2 875.1 864.5 877.1 864.8 879.1 865 881.1 865.3 883.1 865.6 885 865.9 887 866.1 889 866.4 891 866.6 893 866.8 895 867 897 867.2 899 867.4 901 867.5 902.9 867.7 904.9 867.8 906.9 868 908.9 868.1 910.9 868.2 912.9 868.3 914.9 868.5 916.9 868.6 918.9 868.7 920.9 868.8 922.9 868.9 924.9 869 926.9 869.1 928.9 869.2 930.9 869.3 932.9 869.4 934.9 869.5 936.9 869.5 938.9 869.6 940.9 869.7 942.9 869.8 944.9 869.8 946.9 869.9 948.9 870 950.9 870 952.9 870.1 954.9 870.1 956.9 870.2 958.9 870.3 960.9 870.3 962.9 870.4 964.9 870.4 966.9 870.5 968.9 870.5 970.9 870.6 972.9 870.6 974.9 870.7 976.9 870.7 978.9 870.8 980.9 870.8 982.9 870.8 984.9 870.9 986.9 870.9 988.9 870.9 990.9 870.9 992.9 871 994.9 871 996.9 871 998.9 871 1000.9 871 1002.9 871 1004.9 871 1006.9 871 1008.9 871 1010.9 871 1012.9 871 1014.9 871 1016.9 871 1018.9 871 1020.9 871 1022.9 871 1024.9 871 1026.9 871 1028.9 871 1030.9 871 1032.9 871 1034.9 871 1036.9 871 1038.9 871 1040.9 871 1042.9 871 1044.9 871 1046.9 871 1048.9 871 1050.9 871 1052.9 871 1054.9 871 1056.9 871 1058.9 871 1060.9 871 1062.9 871 1064.9 871 1066.9 871 1068.9 871 1070.9 871 1072.9 871 1074.9 871 1076.9 871 1078.9 871 1080.9 871 1082.9 871 1084.9 871 1086.9 871 1088.9 871 1090.9 871 1092.9 871 1094.9 871 1096.9 871 1098.9 871" stroke="#30609a" stroke-width="3.2"/>
<path d="M176 871 178 871 180 871 182 871 184 871 186 871 188 871 190 871 192 871 194 871 196 871 198 871 200 871 202 871 204 871 206 871 208 871 210 871 212 871 214 871 216 871 218 871 220 871 222 871 224 871 226 871 228 871 230 871 232 871 234 871 236 871 238 871 240 871 242 871 244 871 246 871 248 870.9 250 870.9 252 870.8 254 870.7 256 870.6 258 870.5 260 870.3 262 870.2 264 869.9 265.9 869.7 267.9 869.5 269.9 869.2 271.9 869 273.9 868.7 275.8 868.4 277.8 868.1 279.8 867.8 281.8 867.5 283.8 867.2 285.7 867 287.7 866.7 289.7 866.4 291.7 866.1 293.7 865.9 295.6 865.6 297.6 865.3 299.6 865.1 301.6 864.8 303.6 864.5 305.6 864.3 307.5 864 309.5 863.7 311.5 863.4 313.5 863.2 315.5 862.9 317.4 862.6 319.4 862.3 321.4 862.1 323.4 861.8 325.4 861.5 327.4 861.3 329.3 861 331.3 860.7 333.3 860.5 335.3 860.3 337.3 860 339.3 859.8 341.3 859.6 343.2 859.4 345.2 859.1 347.2 858.9 349.2 858.7 351.2 858.5 353.2 858.3 355.2 858.1 357.2 857.9 359.1 857.7 361.1 857.4 363.1 857.1 365.1 856.9 367.1 856.5 369 856.2 371 855.8 372.9 855.4 374.9 854.9 376.8 854.4 378.7 853.9 380.6 853.3 382.5 852.7 384.4 852 386.3 851.3 388.2 850.6 390 849.9 391.9 849.2 393.7 848.4 395.6 847.6 397.4 846.9 399.3 846.1 401.1 845.3 402.9 844.5 404.8 843.6 406.6 842.8 408.4 841.9 410.1 841 411.9 840.1 413.7 839.2 415.5 838.2 417.2 837.3 419 836.4 420.8 835.4 422.5 834.5 424.3 833.6 426.1 832.7 427.9 831.9 429.7 831 431.6 830.2 433.4 829.5 435.3 828.8 437.1 828.1 439 827.4 440.9 826.8 442.8 826.2 444.8 825.6 446.7 825.1 448.6 824.5 450.5 824 452.5 823.5 454.4 822.9 456.3 822.4 458.2 821.8 460.1 821.2 462 820.6 463.9 820 465.8 819.3 467.7 818.6 469.5 817.9 471.4 817.1 473.2 816.3 475 815.5 476.9 814.7 478.7 813.9 480.5 813.1 482.4 812.4 484.3 811.7 486.1 811.1 488.1 810.6 490 810.1 491.9 809.7 493.9 809.3 495.9 809 497.8 808.7 499.8 808.4 501.8 808.2 503.8 808 505.8 807.8 507.8 807.7 509.8 807.6 511.8 807.5 513.8 807.4 515.8 807.4 517.8 807.3 519.8 807.3 521.8 807.3 523.8 807.3 525.8 807.3 527.8 807.3 529.8 807.3 531.8 807.3 533.7 807.4 535.7 807.4 537.7 807.6 539.7 807.7 541.7 807.9 543.7 808.2 545.6 808.6 547.6 809 549.5 809.4 551.5 809.8 553.4 810.3 555.4 810.7 557.3 811.1 559.3 811.4 561.3 811.7 563.2 811.9 565.2 812.1 567.2 812.2 569.2 812.4 571.2 812.5 573.2 812.5 575.2 812.6 577.2 812.7 579.2 812.8 581.2 812.9 583.2 813 585.2 813.1 587.2 813.2 589.2 813.3 591.2 813.4 593.2 813.6 595.2 813.7 597.2 813.8 599.2 814 601.2 814.1 603.1 814.3 605.1 814.4 607.1 814.6 609.1 814.8 611.1 814.9 613.1 815.1 615.1 815.3 617.1 815.5 619.1 815.7 621.1 816 623.1 816.2 625 816.5 627 816.8 629 817.1 631 817.4 632.9 817.8 634.9 818.1 636.8 818.6 638.8 819 640.7 819.4 642.7 819.9 644.6 820.4 646.6 820.9 648.5 821.4 650.4 821.9 652.3 822.5 654.3 823 656.2 823.5 658.1 824.1 660.1 824.6 662 825.1 663.9 825.6 665.9 826.2 667.8 826.7 669.7 827.2 671.7 827.7 673.6 828.2 675.5 828.7 677.5 829.2 679.4 829.7 681.3 830.2 683.3 830.7 685.2 831.3 687.1 831.8 689 832.3 691 832.8 692.9 833.4 694.8 833.9 696.8 834.4 698.7 834.9 700.6 835.5 702.6 836 704.5 836.5 706.4 837 708.4 837.5 710.3 838.1 712.2 838.6 714.2 839.1 716.1 839.6 718 840.1 720 840.6 721.9 841.1 723.8 841.6 725.8 842.1 727.7 842.6 729.6 843.1 731.6 843.6 733.5 844.1 735.4 844.6 737.4 845.1 739.3 845.6 741.2 846.1 743.2 846.7 745.1 847.2 747.1 847.7 749 848.2 750.9 848.6 752.9 849.1 754.8 849.6 756.7 850.1 758.7 850.6 760.6 851 762.6 851.5 764.5 851.9 766.5 852.3 768.4 852.7 770.4 853.2 772.4 853.5 774.3 853.9 776.3 854.3 778.3 854.6 780.2 855 782.2 855.3 784.2 855.6 786.2 855.9 788.1 856.2 790.1 856.4 792.1 856.7 794.1 856.9 796.1 857.2 798.1 857.5 800 857.7 802 858 804 858.2 806 858.4 808 858.7 810 858.9 812 859.2 813.9 859.4 815.9 859.7 817.9 859.9 819.9 860.1 821.9 860.4 823.9 860.6 825.9 860.8 827.8 861.1 829.8 861.3 831.8 861.5 833.8 861.8 835.8 862 837.8 862.2 839.8 862.4 841.8 862.7 843.7 862.9 845.7 863.1 847.7 863.3 849.7 863.6 851.7 863.8 853.7 864 855.7 864.3 857.6 864.5 859.6 864.8 861.6 865 863.6 865.2 865.6 865.5 867.6 865.7 869.6 866 871.5 866.2 873.5 866.4 875.5 866.7 877.5 866.9 879.5 867.1 881.5 867.4 883.5 867.6 885.5 867.8 887.4 868 889.4 868.1 891.4 868.3 893.4 868.5 895.4 868.6 897.4 868.8 899.4 868.9 901.4 869.1 903.4 869.2 905.4 869.3 907.4 869.4 909.4 869.5 911.4 869.7 913.4 869.8 915.4 869.9 917.4 870 919.4 870.1 921.4 870.2 923.4 870.3 925.4 870.4 927.4 870.4 929.4 870.5 931.4 870.6 933.4 870.7 935.4 870.7 937.4 870.8 939.4 870.8 941.4 870.9 943.4 870.9 945.4 870.9 947.4 871 949.4 871 951.4 871 953.4 871 955.4 871 957.4 871 959.4 871 961.4 871 963.4 871 965.4 871 967.4 871 969.4 871 971.4 871 973.4 871 975.4 871 977.4 871 979.4 871 981.4 871 983.4 871 985.4 871 987.4 871 989.4 871 991.4 871 993.4 871 995.4 871 997.4 871 999.4 871 1001.4 871 1003.4 871 1005.4 871 1007.4 871 1009.4 871 1011.4 871 1013.4 871 1015.4 871 1017.4 871 1019.4 871 1021.4 871 1023.4 871 1025.4 871 1027.4 871 1029.4 871 1031.4 871 1033.4 871 1035.4 871 1037.4 871 1039.4 871 1041.4 871 1043.4 871 1045.4 871 1047.4 871 1049.4 871 1051.4 871 1053.4 871 1055.4 871 1057.4 871 1059.4 871 1061.4 871 1063.4 871 1065.4 871 1067.4 871 1069.4 871 1071.4 871 1073.4 871 1075.4 871 1077.4 871 1079.4 871 1081.4 871 1083.4 871 1085.4 871 1087.4 871 1089.4 871 1091.4 871 1093.4 871 1095.4 871 1097.4 871 1099.4 871" stroke="#248c8a" stroke-width="3.2"/>
<rect x="175.8" y="26.5" width="1152.8" height="844.5" stroke="#000" stroke-width="5.6" fill="none" stroke-linejoin="miter"/>
<path d="M1328.6 23.7 V873.8" stroke="#000" stroke-width="6.8" stroke-linecap="butt"/>
<path d="M158 871 H175 M158 646 H175 M158 421 H175 M158 196 H175 M167.5 758.5 H175 M167.5 533.5 H175 M167.5 308.5 H175 M167.5 83.5 H175 M175.8 871 V888 M560 871 V888 M944.2 871 V888 M1328.5 871 V888 M367.9 871 V880.5 M752.1 871 V880.5 M1136.4 871 V880.5" stroke="#000" stroke-width="7.0" stroke-linecap="round"/>
<path d="M1011.5 176.5 H1109" stroke="#000000" stroke-width="3.8" stroke-linecap="butt"/>
<path d="M1011.5 229.6 H1109" stroke="#d01010" stroke-width="3.8" stroke-linecap="butt"/>
<path d="M1011.5 282.8 H1109" stroke="#0000c8" stroke-width="3.8" stroke-linecap="butt"/>
<path d="M1011.5 335.9 H1109" stroke="#e010e0" stroke-width="5.2" stroke-linecap="butt"/>
<path d="M1011.5 389.1 H1109" stroke="#0a780a" stroke-width="5.2" stroke-linecap="butt"/>
<path d="M1011.5 442.2 H1109" stroke="#080040" stroke-width="3.6" stroke-linecap="butt"/>
<path d="M1011.5 495.3 H1109" stroke="#5c1ca0" stroke-width="3.6" stroke-linecap="butt"/>
<path d="M1011.5 548.5 H1109" stroke="#621060" stroke-width="4.3" stroke-linecap="butt"/>
<path d="M1011.5 601.6 H1109" stroke="#6c0808" stroke-width="4.6" stroke-linecap="butt"/>
<path d="M1011.5 654.8 H1109" stroke="#7c7814" stroke-width="3.9" stroke-linecap="butt"/>
<path d="M1011.5 707.9 H1109" stroke="#305e90" stroke-width="3.6" stroke-linecap="butt"/>
<path d="M1011.5 761 H1109" stroke="#2e8888" stroke-width="3.6" stroke-linecap="butt"/>
</g>
<g fill="#000">
<text x="146" y="882" text-anchor="end" font-family="'Liberation Sans', sans-serif" font-weight="bold" font-size="41">0</text>
<text x="146" y="657" text-anchor="end" font-family="'Liberation Sans', sans-serif" font-weight="bold" font-size="41">100</text>
<text x="146" y="432" text-anchor="end" font-family="'Liberation Sans', sans-serif" font-weight="bold" font-size="41">200</text>
<text x="146" y="207" text-anchor="end" font-family="'Liberation Sans', sans-serif" font-weight="bold" font-size="41">300</text>
<text x="175.8" y="933" text-anchor="middle" font-family="'Liberation Sans', sans-serif" font-weight="bold" font-size="41">350</text>
<text x="560" y="933" text-anchor="middle" font-family="'Liberation Sans', sans-serif" font-weight="bold" font-size="41">400</text>
<text x="944.2" y="933" text-anchor="middle" font-family="'Liberation Sans', sans-serif" font-weight="bold" font-size="41">450</text>
<text x="1328.5" y="933" text-anchor="middle" font-family="'Liberation Sans', sans-serif" font-weight="bold" font-size="41">500</text>
<text x="529" y="987" font-family="'Liberation Sans', sans-serif" font-weight="bold" font-size="62">Wavelength<tspan font-weight="normal">(</tspan>nm<tspan font-weight="normal">)</tspan></text>
<text transform="translate(63.6 720) rotate(-90)" x="0" y="0" font-family="'Liberation Sans', sans-serif" font-weight="bold" font-size="63.5">Intensity<tspan font-weight="normal">(</tspan>a.u.<tspan font-weight="normal">)</tspan></text>
<text y="85" font-family="'Liberation Serif', serif" font-weight="bold" font-size="42"><tspan x="449">Excitation</tspan><tspan x="635">:</tspan><tspan x="673">320</tspan><tspan x="747" fill="#0808d0">nm</tspan></text>
<text y="136.5" font-family="'Liberation Serif', serif" font-weight="bold" font-size="41.6"><tspan x="450">Emission:</tspan><tspan x="636">367</tspan><tspan x="710.5" fill="#0808d0">nm</tspan><tspan x="777">383</tspan><tspan x="852.5" fill="#0808d0">nm</tspan></text>
<text x="1118" y="189.3" font-family="'Liberation Serif', serif" font-weight="bold" font-size="42">Original</text>
<text x="1118" y="242.4" font-family="'Liberation Serif', serif" font-weight="bold" font-size="42">50 <tspan fill="#0808d0" font-weight="normal">μ</tspan><tspan fill="#0808d0">L</tspan></text>
<text x="1118" y="295.6" font-family="'Liberation Serif', serif" font-weight="bold" font-size="42">100 <tspan fill="#0808d0" font-weight="normal">μ</tspan><tspan fill="#0808d0">L</tspan></text>
<text x="1118" y="348.7" font-family="'Liberation Serif', serif" font-weight="bold" font-size="42">200 <tspan fill="#0808d0" font-weight="normal">μ</tspan><tspan fill="#0808d0">L</tspan></text>
<text x="1118" y="401.9" font-family="'Liberation Serif', serif" font-weight="bold" font-size="42">300 <tspan fill="#0808d0" font-weight="normal">μ</tspan><tspan fill="#0808d0">L</tspan></text>
<text x="1118" y="455" font-family="'Liberation Serif', serif" font-weight="bold" font-size="42">400 <tspan fill="#0808d0" font-weight="normal">μ</tspan><tspan fill="#0808d0">L</tspan></text>
<text x="1118" y="508.1" font-family="'Liberation Serif', serif" font-weight="bold" font-size="42">500 <tspan fill="#0808d0" font-weight="normal">μ</tspan><tspan fill="#0808d0">L</tspan></text>
<text x="1118" y="561.3" font-family="'Liberation Serif', serif" font-weight="bold" font-size="42">600 <tspan fill="#0808d0" font-weight="normal">μ</tspan><tspan fill="#0808d0">L</tspan></text>
<text x="1118" y="614.4" font-family="'Liberation Serif', serif" font-weight="bold" font-size="42">700 <tspan fill="#0808d0" font-weight="normal">μ</tspan><tspan fill="#0808d0">L</tspan></text>
<text x="1118" y="667.6" font-family="'Liberation Serif', serif" font-weight="bold" font-size="42">800 <tspan fill="#0808d0" font-weight="normal">μ</tspan><tspan fill="#0808d0">L</tspan></text>
<text x="1118" y="720.7" font-family="'Liberation Serif', serif" font-weight="bold" font-size="42">900 <tspan fill="#0808d0" font-weight="normal">μ</tspan><tspan fill="#0808d0">L</tspan></text>
<text x="1118" y="773.8" font-family="'Liberation Serif', serif" font-weight="bold" font-size="42">1000 <tspan fill="#0808d0" font-weight="normal">μ</tspan><tspan fill="#0808d0">L</tspan></text>
</g>
</svg>
</body></html>
